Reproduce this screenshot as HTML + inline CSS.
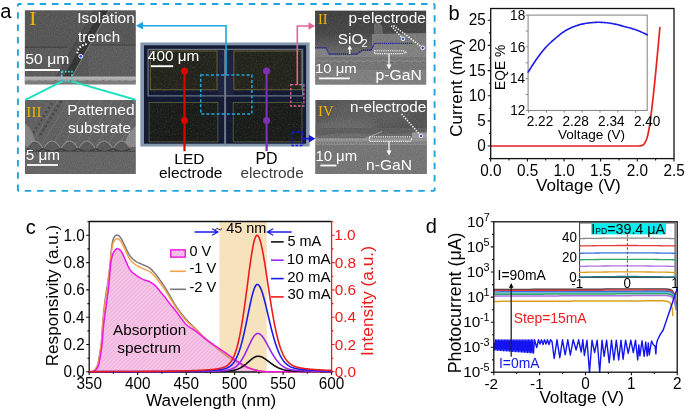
<!DOCTYPE html>
<html><head><meta charset="utf-8"><style>
html,body{margin:0;padding:0;background:#fff;overflow:hidden;}
svg{display:block;font-family:"Liberation Sans", sans-serif;will-change:transform;}
</style></head><body>
<svg width="685" height="411" viewBox="0 0 685 411">
<defs>
<pattern id="hatch" width="2.9" height="2.9" patternUnits="userSpaceOnUse" patternTransform="rotate(45)"><path d="M0,0 L0,2.9" stroke="#dc9cc8" stroke-width="0.9"/></pattern>
<filter id="grain" x="0" y="0" width="1" height="1" filterUnits="objectBoundingBox" color-interpolation-filters="sRGB"><feTurbulence type="fractalNoise" baseFrequency="0.85" numOctaves="2" seed="5" result="t"/><feColorMatrix in="t" type="matrix" values="0.33 0.33 0.33 0 0  0.33 0.33 0.33 0 0  0.33 0.33 0.33 0 0  0 0 0 0 1" result="g"/><feComposite in="SourceGraphic" in2="g" operator="arithmetic" k1="0" k2="1" k3="0.22" k4="-0.11"/></filter>
<filter id="speck" x="0" y="0" width="1" height="1" filterUnits="objectBoundingBox" color-interpolation-filters="sRGB"><feTurbulence type="fractalNoise" baseFrequency="1.3" numOctaves="1" seed="11" result="t"/><feColorMatrix in="t" type="matrix" values="0 0 0 0 0.72  0 0 0 0 0.68  0 0 0 0 0.4  0 0 0 12 -7.6"/></filter>
<linearGradient id="g2" x1="0" y1="0" x2="0" y2="1"><stop offset="0" stop-color="#434343"/><stop offset="0.3" stop-color="#484848"/><stop offset="0.45" stop-color="#5a5a5a"/><stop offset="0.55" stop-color="#686868"/><stop offset="1" stop-color="#6c6c6c"/></linearGradient>
<linearGradient id="g3" x1="0" y1="0" x2="0" y2="1"><stop offset="0" stop-color="#707070"/><stop offset="1" stop-color="#7c7c7c"/></linearGradient>
<linearGradient id="g4" x1="0" y1="0" x2="0" y2="1"><stop offset="0" stop-color="#5a5a5a"/><stop offset="0.35" stop-color="#606060"/><stop offset="0.45" stop-color="#6a6a6a"/><stop offset="0.52" stop-color="#8a8a8a"/><stop offset="0.56" stop-color="#9a9a9a"/><stop offset="0.6" stop-color="#7e7e7e"/><stop offset="1" stop-color="#7a7a7a"/></linearGradient>
<filter id="blur3" x="-50%" y="-50%" width="200%" height="200%"><feGaussianBlur stdDeviation="3"/></filter>
<clipPath id="c1"><rect x="24.7" y="10.2" width="111.1" height="74.3"/></clipPath>
<clipPath id="c2"><rect x="315.1" y="10.4" width="111.2" height="74.3"/></clipPath>
<clipPath id="c3"><rect x="25" y="99.9" width="110.8" height="74.1"/></clipPath>
<clipPath id="c4"><rect x="315.3" y="99.9" width="111.6" height="74"/></clipPath>
<clipPath id="cm"><rect x="140.2" y="42.3" width="169.6" height="104.4"/></clipPath>
</defs>
<text x="0.20" y="17.50" font-size="20.00" fill="#000" >a</text>
<g clip-path="url(#c1)"><g filter="url(#grain)">
<rect x="24.7" y="10.2" width="111.1" height="74.3" fill="#585858"/>
<rect x="24.7" y="47.2" width="44" height="30" fill="#5c5c5c"/>
<rect x="88" y="45" width="48" height="32" fill="#5e5e5e"/>
<path d="M24.7,47.2 L67,47.2" stroke="#3e3e3e" stroke-width="1"/>
<path d="M84,45 L136,45" stroke="#404040" stroke-width="1"/>
<path d="M56.5,77 L63.4,77 L100.7,10.2 L93.8,10.2 Z" fill="#4e4e4e"/>
<path d="M63.4,77 L71.6,77 L108.9,10.2 L100.7,10.2 Z" fill="#363636"/>
<path d="M71.8,77 L109.1,10.2" stroke="#767676" stroke-width="1.2"/>
<path d="M56.5,77 L93.8,10.2" stroke="#444" stroke-width="0.8"/>
<rect x="24.7" y="76.6" width="111.1" height="8" fill="#7c7c7c"/>
<rect x="24.7" y="76.6" width="111.1" height="3.2" fill="#b4b4b4"/>
<path d="M24.7,80.5 L136,80.5" stroke="#a0a0a0" stroke-width="0.8" stroke-dasharray="4 2 7 3"/>
</g></g>
<g clip-path="url(#c3)"><g filter="url(#grain)">
<rect x="25" y="99.9" width="110.8" height="74.1" fill="#626262"/>
<path d="M58,99.9 L30,146 M69,99.9 L41,146 M80,99.9 L52,146 M91,99.9 L63,146 M102,99.9 L74,146 M113,99.9 L85,146 M124,99.9 L96,146 M135,99.9 L107,146 M146,99.9 L118,146 M157,99.9 L129,146 M168,99.9 L140,146" stroke="#7a7a7a" stroke-width="0.7"/>
<g fill="#4a4a4a"><circle cx="60.7" cy="102.0" r="1.5"/><circle cx="58.2" cy="106.0" r="1.5"/><circle cx="55.7" cy="110.0" r="1.5"/><circle cx="53.2" cy="114.0" r="1.5"/><circle cx="50.7" cy="118.0" r="1.5"/><circle cx="48.1" cy="122.0" r="1.5"/><circle cx="45.6" cy="126.0" r="1.5"/><circle cx="43.1" cy="130.0" r="1.5"/><circle cx="40.6" cy="134.0" r="1.5"/><circle cx="51.5" cy="104.0" r="1.2"/><circle cx="49.0" cy="108.0" r="1.2"/><circle cx="46.4" cy="112.0" r="1.2"/><circle cx="43.9" cy="116.0" r="1.2"/><circle cx="41.4" cy="120.0" r="1.2"/><circle cx="38.9" cy="124.0" r="1.2"/><circle cx="36.4" cy="128.0" r="1.2"/><circle cx="33.8" cy="132.0" r="1.2"/></g>
<path d="M25,124 Q33,128 36,146 L25,146 Z" fill="#858585"/>
<path d="M136,126 Q127,131 124,147 L136,147 Z" fill="#8a8a8a"/>
<path d="M26,149 Q34.7,133 43.4,149 Q52.1,133 60.8,149 Q69.5,133 78.2,149 Q86.9,133 95.6,149 Q104.3,133 113.0,149 Q121.7,133 130.4,149 L136,152 L25,152 Z" fill="#5b5b5b"/>
<path d="M26,149 Q34.7,133 43.4,149 Q52.1,133 60.8,149 Q69.5,133 78.2,149 Q86.9,133 95.6,149 Q104.3,133 113.0,149 Q121.7,133 130.4,149" fill="none" stroke="#8e8e8e" stroke-width="1.1"/>
<path d="M26,148.5 Q34.7,155 43.4,148.5 Q52.1,155 60.8,148.5 Q69.5,155 78.2,148.5 Q86.9,155 95.6,148.5 Q104.3,155 113.0,148.5 Q121.7,155 130.4,148.5" fill="none" stroke="#3a3a3a" stroke-width="1.5"/>
<rect x="25" y="151.5" width="110.8" height="22.5" fill="#666666"/>
<path d="M25,151.5 L136,151.5" stroke="#4c4c4c" stroke-width="1.2"/>
</g></g>
<g clip-path="url(#cm)">
<rect x="140.2" y="42.3" width="169.6" height="104.4" fill="#8398ae"/>
<rect x="144.0" y="45.3" width="162.1" height="98.4" fill="#131a33"/>
<rect x="218" y="49" width="15" height="47" fill="#1d2340"/>
<g filter="url(#grain)"><rect x="149.4" y="50.3" width="68.2" height="40" fill="#25271f"/></g>
<g filter="url(#grain)"><rect x="233.2" y="50.3" width="68.8" height="40" fill="#25271f"/></g>
<g fill="none" stroke="#8a7e46" stroke-width="0.8" opacity="0.85">
<rect x="150.2" y="51" width="66.8" height="38.8"/>
<rect x="233.9" y="51" width="67.4" height="38.8"/>
</g>
<g filter="url(#grain)"><rect x="149.1" y="102.4" width="68.8" height="39.5" fill="#1b1f1b"/></g>
<g filter="url(#grain)"><rect x="233.2" y="102.4" width="68.8" height="39.5" fill="#1b1f1b"/></g>
<rect x="149.1" y="102.4" width="68.8" height="39.5" fill="none" stroke="#626440" stroke-width="0.8"/>
<rect x="233.2" y="102.4" width="68.8" height="39.5" fill="none" stroke="#626440" stroke-width="0.8"/>
<rect x="149" y="50" width="154" height="92" filter="url(#speck)" opacity="0.1"/>
<path d="M148.1,95.8 L148.1,49.4 L302.6,49.4 L302.6,95.8 Z" fill="none" stroke="#687484" stroke-width="1.3"/>
<path d="M225.1,49.4 L225.1,144.3" stroke="#6c7888" stroke-width="2.0"/>
</g>
<g clip-path="url(#c2)"><g filter="url(#grain)">
<rect x="315.1" y="10.4" width="111.2" height="74.3" fill="url(#g2)"/>
<path d="M374,24 Q378,20 382,26 L384,40 L374,40 Z" fill="#6a6a6a"/>
<path d="M372,34 L426.3,33 L426.3,46 L372,46 Z" fill="#7c7c7c"/>
<path d="M315.1,48.5 L326,48.5 L329.5,55 L357,55 L362.5,51 L371,51 L374.5,44.5 L426.3,44.5 L426.3,57 L315.1,57 Z" fill="#828282"/>
<rect x="315.1" y="57" width="111.2" height="28" fill="#767676"/>
<path d="M315.1,62 q4,-3 8,0 q4,-3 8,0 q4,-3 8,0 q4,-3 8,0 q4,-3 8,0 q4,-3 8,0 q4,-3 8,0 q4,-3 8,0 q4,-3 8,0 q4,-3 8,0 q4,-3 8,0 q4,-3 8,0 q4,-3 8,0 q4,-3 8,0" fill="none" stroke="#8c8c8c" stroke-width="1.2"/>
<rect x="315.1" y="70" width="111.2" height="15" fill="#808080"/>
</g></g>
<g clip-path="url(#c4)"><g filter="url(#grain)">
<rect x="315.3" y="99.9" width="111.6" height="74" fill="#565656"/>
<ellipse cx="372" cy="112" rx="40" ry="14" fill="#5e5e5e" filter="url(#blur3)"/>
<ellipse cx="345" cy="127" rx="32" ry="8" fill="#6a6a6a" filter="url(#blur3)"/>
<rect x="315.3" y="128" width="111.6" height="10" fill="#606060"/>
<path d="M315.3,136 Q345,131 372,134 L427,133 L427,138 L315.3,138 Z" fill="#6c6c6c"/>
<rect x="412" y="132.5" width="15" height="7" fill="#9a9a9a"/>
<rect x="315.3" y="138" width="111.6" height="7" fill="#8a8a8a"/>
<path d="M315.3,139.8 L427,139.8" stroke="#a4a4a4" stroke-width="1.5" stroke-dasharray="1.4 1.4"/>
<path d="M364,139 L382,131.5" stroke="#9a9a9a" stroke-width="1.1"/>
<path d="M315.3,142.8 L427,142.8" stroke="#6e6e6e" stroke-width="1.2" stroke-dasharray="1.4 1.4"/>
<rect x="315.3" y="145" width="111.6" height="29" fill="#767676"/>
</g></g>
<path d="M17.9,3.95 L434.6,3.95" fill="none" stroke="#1ea5e0" stroke-width="1.9" stroke-dasharray="6.5 5.8" stroke-dashoffset="2.8"/>
<path d="M434.6,3.95 L434.6,190.9" fill="none" stroke="#1ea5e0" stroke-width="1.9" stroke-dasharray="6.5 5.8" stroke-dashoffset="1.05"/>
<path d="M17.9,190.9 L434.6,190.9" fill="none" stroke="#1ea5e0" stroke-width="1.9" stroke-dasharray="6.5 5.8" stroke-dashoffset="5.5"/>
<path d="M17.9,3.95 L17.9,190.9" fill="none" stroke="#1ea5e0" stroke-width="1.9" stroke-dasharray="6.5 5.8" stroke-dashoffset="3.95"/>
<path d="M62,81.4 L25.3,99.8 M71.7,81.4 L135.6,99.8" stroke="#1fe0c0" stroke-width="2" fill="none"/>
<rect x="61.7" y="71.6" width="10.2" height="9.8" fill="none" stroke="#34dce8" stroke-width="1.7" stroke-dasharray="1.6 1.6"/>
<path d="M77.3,53.4 Q77.8,45.6 88.1,43.7" fill="none" stroke="#fff" stroke-width="2" stroke-dasharray="1.6 1.6"/>
<circle cx="80.7" cy="56.3" r="1.9" fill="#3050e0" stroke="#fff" stroke-width="1"/>
<text transform="translate(77.17,23.30) scale(1,0.92)" font-size="15.48" fill="#ffffff" >Isolation</text>
<text transform="translate(78.07,41.80) scale(1,0.92)" font-size="15.13" fill="#ffffff" >trench</text>
<text transform="translate(25.37,63.70) scale(1,0.92)" font-size="15.73" fill="#ffffff" >50 μm</text>
<path d="M24.7,70 L60,70" stroke="#fff" stroke-width="1.8"/>
<text x="29.0" y="25.1" font-size="18.2" fill="#f0b400" font-family='"Liberation Serif", serif' textLength="7.6" lengthAdjust="spacingAndGlyphs">I</text>
<text transform="translate(67.22,114.90) scale(1,0.92)" font-size="15.56" fill="#ffffff" >Patterned</text>
<text transform="translate(67.88,133.30) scale(1,0.92)" font-size="15.36" fill="#ffffff" >substrate</text>
<text transform="translate(25.69,159.50) scale(1,0.92)" font-size="15.35" fill="#ffffff" >5 μm</text>
<path d="M27.1,165 L58,165" stroke="#fff" stroke-width="1.8"/>
<text x="26.37" y="116.80" font-size="15.20" fill="#f0b400" font-family='"Liberation Serif", serif' >III</text>
<text x="147.86" y="60.90" font-size="15.33" fill="#ffffff" >400 μm</text>
<path d="M150.9,66.2 L173.2,66.2" stroke="#fff" stroke-width="1.9"/>
<path d="M315.1,47.7 L325.8,47.7 L329.2,54 L356.6,54 L362.5,50.2 L371,50.2 L374.5,43.4 L412,43.4" fill="none" stroke="#1c1cb0" stroke-width="1.4" stroke-dasharray="1.2 0.9"/>
<path d="M374.5,50.8 L403,50.8 L406,52.2 L403,53.6 L374.5,53.6 Z" fill="none" stroke="#fff" stroke-width="1.1" stroke-dasharray="1.2 1"/>
<path d="M389,54 L389,66" stroke="#fff" stroke-width="1.2"/><path d="M389,69.5 L386.5,64.5 L391.5,64.5 Z" fill="#fff"/>
<path d="M349.7,54 L349.7,48.5" stroke="#fff" stroke-width="1.2"/><path d="M349.7,45.2 L347.4,49.6 L352,49.6 Z" fill="#fff"/>
<path d="M391.2,25.8 L403,38.8 M393.5,25.5 L422.7,47.8" stroke="#fff" stroke-width="1.6" stroke-dasharray="1.3 1.4"/>
<circle cx="403" cy="38.8" r="1.8" fill="#3050e0" stroke="#fff" stroke-width="1"/><circle cx="422.7" cy="47.8" r="1.8" fill="#3050e0" stroke="#fff" stroke-width="1"/>
<text transform="translate(348.60,22.60) scale(1,0.92)" font-size="15.44" fill="#ffffff" >p-electrode</text>
<text x="337.81" y="44.30" font-size="15.40" fill="#ffffff" >SiO</text>
<text x="361.6" y="47.3" font-size="11" fill="#fff">2</text>
<text transform="translate(314.98,72.50) scale(1,0.92)" font-size="14.89" fill="#ffffff" >10 μm</text>
<path d="M319,78.4 L349.7,78.4" stroke="#fff" stroke-width="1.8"/>
<text transform="translate(375.48,80.10) scale(1,0.92)" font-size="15.76" fill="#ffffff" >p-GaN</text>
<text x="318.00" y="23.60" font-size="14.29" fill="#f0b400" font-family='"Liberation Serif", serif' >II</text>
<path d="M369.5,136.9 L410,136.9 L412.3,139.1 L410,141.4 L369.5,141.4 Z" fill="none" stroke="#fff" stroke-width="1.1" stroke-dasharray="1.2 1"/>
<path d="M389,141.4 L389,152" stroke="#fff" stroke-width="1.2"/><path d="M389,155.4 L386.5,150.4 L391.5,150.4 Z" fill="#fff"/>
<path d="M401.6,114.1 L421,135.9" stroke="#fff" stroke-width="1.6" stroke-dasharray="1.3 1.4"/>
<circle cx="421" cy="135.9" r="1.8" fill="#3050e0" stroke="#fff" stroke-width="1"/>
<text transform="translate(349.97,112.20) scale(1,0.92)" font-size="15.23" fill="#ffffff" >n-electrode</text>
<text transform="translate(315.38,161.20) scale(1,0.92)" font-size="14.92" fill="#ffffff" >10 μm</text>
<path d="M320.4,165.5 L336.4,165.5" stroke="#fff" stroke-width="1.8"/>
<text transform="translate(366.05,170.00) scale(1,0.92)" font-size="15.60" fill="#ffffff" >n-GaN</text>
<text x="317.98" y="115.50" font-size="14.79" fill="#f0b400" font-family='"Liberation Serif", serif' >IV</text>
<path d="M184.5,71 L184.5,151.1" stroke="#e00000" stroke-width="2.2"/>
<circle cx="184.5" cy="71" r="3.5" fill="#e00000"/><circle cx="184.5" cy="120.6" r="3.5" fill="#e00000"/>
<path d="M266.6,71 L266.6,151.1" stroke="#7a30b0" stroke-width="2.2"/>
<circle cx="266.6" cy="71" r="3.5" fill="#7a30b0"/><circle cx="266.6" cy="120.6" r="3.5" fill="#7a30b0"/>
<text x="174.32" y="163.90" font-size="15.48" fill="#000" >LED</text>
<text x="158.94" y="177.80" font-size="15.44" fill="#000" >electrode</text>
<text x="255.48" y="163.90" font-size="15.95" fill="#000" >PD</text>
<text x="240.45" y="177.80" font-size="15.39" fill="#3c3c3c" >electrode</text>
<rect x="200.7" y="75" width="51.2" height="38.9" fill="none" stroke="#1ea5e0" stroke-width="1.5" stroke-dasharray="3.0 2.1"/>
<path d="M226,75 L226,25.7 L141.5,25.7" stroke="#1ea5e0" stroke-width="1.6" fill="none"/>
<path d="M135.9,25.7 L143,21.8 L143,29.6 Z" fill="#1ea5e0"/>
<rect x="290.8" y="84.7" width="13.1" height="21.3" fill="none" stroke="#e8609a" stroke-width="1.3" stroke-dasharray="2.6 1.6"/>
<path d="M297.3,84.7 L297.3,26 L309.5,26" stroke="#e8609a" stroke-width="1.6" fill="none"/>
<path d="M315.1,26 L308.5,22.2 L308.5,29.8 Z" fill="#e8609a"/>
<rect x="292" y="132" width="11" height="13.5" fill="none" stroke="#1010e0" stroke-width="1.3" stroke-dasharray="2.6 1.6"/>
<path d="M303,138.7 L309.5,138.7" stroke="#1010e0" stroke-width="1.6"/>
<path d="M315.3,138.7 L308.8,134.8 L308.8,142.6 Z" fill="#1010e0"/>
<text x="448.50" y="19.90" font-size="20.00" fill="#000" >b</text>
<path d="M490.70,146.00 L636.00,146.00 L636.40,145.99 L636.80,145.99 L637.20,145.99 L637.60,145.99 L638.00,146.00 L638.40,146.00 L638.80,145.99 L639.20,145.97 L639.60,145.94 L640.00,145.89 L640.40,145.82 L640.80,145.74 L641.20,145.66 L641.60,145.58 L642.00,145.47 L642.40,145.32 L642.80,145.12 L643.20,144.86 L643.60,144.50 L644.00,144.08 L644.40,143.57 L644.80,142.98 L645.20,142.29 L645.60,141.50 L646.00,140.61 L646.40,139.62 L646.80,138.50 L647.20,137.21 L647.60,135.74 L648.00,134.12 L648.40,132.30 L648.80,130.24 L649.20,127.90 L649.60,125.34 L650.00,122.61 L650.40,119.72 L650.80,116.70 L651.20,113.59 L651.60,110.39 L652.00,107.08 L652.40,103.67 L652.80,100.16 L653.20,96.56 L653.60,92.89 L654.00,89.14 L654.40,85.33 L654.80,81.42 L655.20,77.42 L655.60,73.35 L656.00,69.23 L656.40,65.07 L656.80,60.90 L657.20,56.69 L657.60,52.43 L658.00,48.12 L658.40,43.79 L658.80,39.44 L659.20,35.08 L659.60,30.74 L659.90,27.50" stroke="#e82020" stroke-width="1.7" fill="none" stroke-linejoin="round" stroke-linecap="round" />
<rect x="490.7" y="8.5" width="183.3" height="150.1" fill="none" stroke="#111" stroke-width="1.3"/>
<path d="M490.7,158.6 L490.7,161.6 M509.0,158.6 L509.0,160.4 M527.4,158.6 L527.4,161.6 M545.7,158.6 L545.7,160.4 M564.0,158.6 L564.0,161.6 M582.3,158.6 L582.3,160.4 M600.6,158.6 L600.6,161.6 M619.0,158.6 L619.0,160.4 M637.3,158.6 L637.3,161.6 M655.6,158.6 L655.6,160.4 M674.0,158.6 L674.0,161.6 M490.7,146.0 L487.7,146.0 M490.7,133.4 L488.9,133.4 M490.7,120.9 L487.7,120.9 M490.7,108.3 L488.9,108.3 M490.7,95.7 L487.7,95.7 M490.7,83.2 L488.9,83.2 M490.7,70.6 L487.7,70.6 M490.7,58.0 L488.9,58.0 M490.7,45.4 L487.7,45.4 M490.7,32.9 L488.9,32.9 M490.7,20.3 L487.7,20.3 M490.7,158.6 L488.9,158.6" stroke="#111" stroke-width="1.1"/>
<text transform="translate(480.35,175.60) scale(1,1.06)" font-size="15.30" fill="#000" >0.0</text>
<text transform="translate(517.02,175.60) scale(1,1.06)" font-size="15.30" fill="#000" >0.5</text>
<text transform="translate(553.38,175.60) scale(1,1.06)" font-size="15.30" fill="#000" >1.0</text>
<text transform="translate(590.05,175.60) scale(1,1.06)" font-size="15.30" fill="#000" >1.5</text>
<text transform="translate(626.87,175.60) scale(1,1.06)" font-size="15.30" fill="#000" >2.0</text>
<text transform="translate(663.54,175.60) scale(1,1.06)" font-size="15.30" fill="#000" >2.5</text>
<text transform="translate(477.28,151.06) scale(1,1.06)" font-size="15.30" fill="#000">0</text>
<text transform="translate(477.32,125.92) scale(1,1.06)" font-size="15.30" fill="#000">5</text>
<text transform="translate(468.79,100.78) scale(1,1.06)" font-size="15.30" fill="#000">10</text>
<text transform="translate(468.83,75.64) scale(1,1.06)" font-size="15.30" fill="#000">15</text>
<text transform="translate(468.79,50.50) scale(1,1.06)" font-size="15.30" fill="#000">20</text>
<text transform="translate(468.83,25.36) scale(1,1.06)" font-size="15.30" fill="#000">25</text>
<text x="536.01" y="191.40" font-size="17.15" fill="#000" >Voltage (V)</text>
<text transform="translate(462.39,136.65) rotate(-90)" font-size="16.95" fill="#000">Current (mA)</text>
<rect x="528.1" y="15.1" width="119.10000000000002" height="95.4" fill="#fff" stroke="#8a8a8a" stroke-width="1.1"/>
<path d="M528.10,72.10 L529.10,70.54 L530.10,68.95 L531.10,67.36 L532.10,65.78 L533.10,64.23 L534.10,62.71 L535.10,61.24 L536.10,59.82 L537.10,58.42 L538.10,57.03 L539.10,55.67 L540.10,54.33 L541.10,53.02 L542.10,51.74 L543.10,50.50 L544.10,49.30 L545.10,48.14 L546.10,47.03 L547.10,45.96 L548.10,44.94 L549.10,43.96 L550.10,43.01 L551.10,42.09 L552.10,41.20 L553.10,40.32 L554.10,39.46 L555.10,38.61 L556.10,37.76 L557.10,36.92 L558.10,36.09 L559.10,35.28 L560.10,34.48 L561.10,33.71 L562.10,32.96 L563.10,32.24 L564.10,31.55 L565.10,30.90 L566.10,30.28 L567.10,29.70 L568.10,29.16 L569.10,28.66 L570.10,28.18 L571.10,27.73 L572.10,27.31 L573.10,26.90 L574.10,26.52 L575.10,26.15 L576.10,25.80 L577.10,25.46 L578.10,25.15 L579.10,24.86 L580.10,24.59 L581.10,24.34 L582.10,24.10 L583.10,23.89 L584.10,23.69 L585.10,23.50 L586.10,23.33 L587.10,23.18 L588.10,23.03 L589.10,22.90 L590.10,22.78 L591.10,22.68 L592.10,22.59 L593.10,22.51 L594.10,22.45 L595.10,22.39 L596.10,22.35 L597.10,22.32 L598.10,22.31 L599.10,22.30 L600.10,22.31 L601.10,22.33 L602.10,22.38 L603.10,22.43 L604.10,22.51 L605.10,22.59 L606.10,22.69 L607.10,22.81 L608.10,22.93 L609.10,23.07 L610.10,23.21 L611.10,23.37 L612.10,23.53 L613.10,23.71 L614.10,23.91 L615.10,24.13 L616.10,24.35 L617.10,24.59 L618.10,24.84 L619.10,25.09 L620.10,25.36 L621.10,25.62 L622.10,25.89 L623.10,26.17 L624.10,26.44 L625.10,26.71 L626.10,26.97 L627.10,27.24 L628.10,27.51 L629.10,27.78 L630.10,28.05 L631.10,28.33 L632.10,28.62 L633.10,28.92 L634.10,29.23 L635.10,29.55 L636.10,29.89 L637.10,30.25 L638.10,30.63 L639.10,31.04 L640.10,31.47 L641.10,31.92 L642.10,32.39 L643.10,32.86 L644.10,33.34 L645.10,33.82 L646.10,34.29 L647.10,34.75 L647.20,34.80" stroke="#1c1ce8" stroke-width="1.6" fill="none" stroke-linejoin="round" stroke-linecap="round" />
<path d="M528.1,110.5 L525.7,110.5 M528.1,94.6 L525.7,94.6 M528.1,78.7 L525.7,78.7 M528.1,62.8 L525.7,62.8 M528.1,46.9 L525.7,46.9 M528.1,31.0 L525.7,31.0 M528.1,15.1 L525.7,15.1 M528.5,110.5 L528.5,112.7 M546.4,110.5 L546.4,112.7 M564.2,110.5 L564.2,112.7 M582.1,110.5 L582.1,112.7 M600.0,110.5 L600.0,112.7 M617.8,110.5 L617.8,112.7 M635.7,110.5 L635.7,112.7" stroke="#8a8a8a" stroke-width="1"/>
<text transform="translate(510.18,115.23) scale(1,1.06)" font-size="13.60" fill="#000">12</text>
<text transform="translate(509.88,83.43) scale(1,1.06)" font-size="13.60" fill="#000">14</text>
<text transform="translate(510.08,51.63) scale(1,1.06)" font-size="13.60" fill="#000">16</text>
<text transform="translate(510.08,19.83) scale(1,1.06)" font-size="13.60" fill="#000">18</text>
<text transform="translate(526.78,125.50) scale(1,1.06)" font-size="13.60" fill="#000" >2.22</text>
<text transform="translate(562.46,125.50) scale(1,1.06)" font-size="13.60" fill="#000" >2.28</text>
<text transform="translate(598.09,125.50) scale(1,1.06)" font-size="13.60" fill="#000" >2.34</text>
<text transform="translate(633.89,125.50) scale(1,1.06)" font-size="13.60" fill="#000" >2.40</text>
<text x="558.03" y="138.80" font-size="13.57" fill="#000" >Voltage (V)</text>
<text transform="translate(504.53,90.04) rotate(-90)" font-size="13.80" fill="#000">EQE %</text>
<text x="25.85" y="233.60" font-size="20.00" fill="#000" >c</text>
<rect x="219.4" y="221.5" width="47.4" height="150.5" fill="#f7e2be"/>
<path d="M89.20,371.80 L89.68,371.80 L90.17,371.80 L90.65,371.80 L91.14,371.80 L91.62,371.80 L92.11,371.80 L92.59,371.74 L93.08,371.59 L93.56,371.36 L94.05,371.08 L94.53,370.77 L95.02,370.45 L95.50,370.10 L95.99,369.69 L96.47,369.17 L96.96,368.52 L97.44,367.76 L97.93,366.79 L98.41,365.52 L98.90,363.90 L99.38,361.74 L99.87,358.73 L100.35,356.05 L100.84,353.37 L101.32,350.23 L101.80,346.75 L102.29,341.42 L102.77,335.00 L103.26,328.85 L103.74,323.97 L104.23,319.78 L104.71,316.03 L105.20,312.56 L105.68,309.22 L106.17,305.86 L106.65,302.32 L107.14,298.57 L107.62,294.90 L108.11,291.17 L108.59,287.16 L109.08,282.67 L109.56,277.06 L110.05,270.83 L110.53,265.38 L111.02,261.61 L111.50,258.88 L111.99,256.80 L112.47,255.02 L112.96,253.61 L113.44,252.58 L113.92,251.80 L114.41,251.13 L114.89,250.46 L115.38,249.87 L115.86,249.37 L116.35,249.00 L116.83,248.76 L117.32,248.68 L117.80,248.72 L118.29,248.86 L118.77,249.09 L119.26,249.40 L119.74,249.79 L120.23,250.26 L120.71,250.80 L121.20,251.41 L121.68,252.11 L122.17,252.95 L122.65,253.90 L123.14,254.94 L123.62,256.02 L124.11,257.12 L124.59,258.21 L125.08,259.26 L125.56,260.33 L126.04,261.44 L126.53,262.58 L127.01,263.73 L127.50,264.86 L127.98,265.96 L128.47,267.00 L128.95,267.97 L129.44,268.84 L129.92,269.59 L130.41,270.27 L130.89,270.87 L131.38,271.41 L131.86,271.89 L132.35,272.34 L132.83,272.75 L133.32,273.13 L133.80,273.50 L134.29,273.87 L134.77,274.24 L135.26,274.63 L135.74,275.01 L136.23,275.37 L136.71,275.72 L137.20,276.06 L137.68,276.39 L138.16,276.71 L138.65,277.01 L139.13,277.31 L139.62,277.60 L140.10,277.88 L140.59,278.15 L141.07,278.41 L141.56,278.67 L142.04,278.92 L142.53,279.16 L143.01,279.39 L143.50,279.60 L143.98,279.78 L144.47,279.95 L144.95,280.11 L145.44,280.27 L145.92,280.41 L146.41,280.56 L146.89,280.72 L147.38,280.87 L147.86,281.04 L148.35,281.23 L148.83,281.43 L149.32,281.65 L149.80,281.90 L150.28,282.16 L150.77,282.42 L151.25,282.70 L151.74,282.99 L152.22,283.29 L152.71,283.61 L153.19,283.95 L153.68,284.31 L154.16,284.69 L154.65,285.10 L155.13,285.53 L155.62,286.00 L156.10,286.51 L156.59,287.05 L157.07,287.62 L157.56,288.21 L158.04,288.81 L158.53,289.42 L159.01,290.03 L159.50,290.64 L159.98,291.24 L160.47,291.83 L160.95,292.41 L161.44,292.97 L161.92,293.54 L162.40,294.11 L162.89,294.68 L163.37,295.26 L163.86,295.85 L164.34,296.45 L164.83,297.07 L165.31,297.71 L165.80,298.35 L166.28,299.00 L166.77,299.66 L167.25,300.32 L167.74,300.98 L168.22,301.64 L168.71,302.29 L169.19,302.92 L169.68,303.55 L170.16,304.16 L170.65,304.76 L171.13,305.36 L171.62,305.95 L172.10,306.53 L172.59,307.11 L173.07,307.69 L173.56,308.27 L174.04,308.85 L174.52,309.44 L175.01,310.04 L175.49,310.65 L175.98,311.27 L176.46,311.90 L176.95,312.55 L177.43,313.21 L177.92,313.88 L178.40,314.55 L178.89,315.23 L179.37,315.91 L179.86,316.59 L180.34,317.27 L180.83,317.94 L181.31,318.61 L181.80,319.27 L182.28,319.91 L182.77,320.55 L183.25,321.17 L183.74,321.77 L184.22,322.35 L184.71,322.92 L185.19,323.45 L185.68,323.96 L186.16,324.45 L186.64,324.90 L187.13,325.33 L187.61,325.74 L188.10,326.12 L188.58,326.49 L189.07,326.83 L189.55,327.17 L190.04,327.49 L190.52,327.80 L191.01,328.10 L191.49,328.40 L191.98,328.69 L192.46,328.98 L192.95,329.27 L193.43,329.57 L193.92,329.87 L194.40,330.18 L194.89,330.50 L195.37,330.83 L195.86,331.18 L196.34,331.54 L196.83,331.91 L197.31,332.29 L197.80,332.67 L198.28,333.06 L198.76,333.45 L199.25,333.84 L199.73,334.24 L200.22,334.64 L200.70,335.04 L201.19,335.44 L201.67,335.84 L202.16,336.24 L202.64,336.64 L203.13,337.04 L203.61,337.43 L204.10,337.83 L204.58,338.21 L205.07,338.60 L205.55,338.98 L206.04,339.35 L206.52,339.72 L207.01,340.09 L207.49,340.45 L207.98,340.80 L208.46,341.15 L208.95,341.50 L209.43,341.85 L209.92,342.20 L210.40,342.54 L210.88,342.88 L211.37,343.22 L211.85,343.55 L212.34,343.89 L212.82,344.22 L213.31,344.56 L213.79,344.89 L214.28,345.22 L214.76,345.56 L215.25,345.89 L215.73,346.22 L216.22,346.56 L216.70,346.89 L217.19,347.22 L217.67,347.56 L218.16,347.89 L218.64,348.22 L219.13,348.54 L219.61,348.87 L220.10,349.20 L220.58,349.52 L221.07,349.85 L221.55,350.17 L222.04,350.50 L222.52,350.82 L223.00,351.15 L223.49,351.47 L223.97,351.80 L224.46,352.13 L224.94,352.46 L225.43,352.79 L225.91,353.12 L226.40,353.45 L226.88,353.79 L227.37,354.12 L227.85,354.46 L228.34,354.81 L228.82,355.16 L229.31,355.51 L229.79,355.86 L230.28,356.22 L230.76,356.58 L231.25,356.94 L231.73,357.29 L232.22,357.65 L232.70,358.01 L233.19,358.37 L233.67,358.72 L234.16,359.07 L234.64,359.42 L235.12,359.77 L235.61,360.11 L236.09,360.45 L236.58,360.78 L237.06,361.11 L237.55,361.43 L238.03,361.74 L238.52,362.06 L239.00,362.38 L239.49,362.70 L239.97,363.01 L240.46,363.33 L240.94,363.64 L241.43,363.95 L241.91,364.25 L242.40,364.56 L242.88,364.85 L243.37,365.15 L243.85,365.43 L244.34,365.72 L244.82,365.99 L245.31,366.26 L245.79,366.52 L246.28,366.77 L246.76,367.02 L247.24,367.25 L247.73,367.48 L248.21,367.70 L248.70,367.91 L249.18,368.11 L249.67,368.30 L250.15,368.48 L250.64,368.66 L251.12,368.83 L251.61,369.00 L252.09,369.15 L252.58,369.31 L253.06,369.45 L253.55,369.59 L254.03,369.73 L254.52,369.86 L255.00,369.98 L255.49,370.10 L255.97,370.22 L256.46,370.33 L256.94,370.44 L257.43,370.55 L257.91,370.65 L258.40,370.75 L258.88,370.84 L259.36,370.93 L259.85,371.02 L260.33,371.10 L260.82,371.18 L261.30,371.26 L261.79,371.32 L262.27,371.39 L262.76,371.45 L263.24,371.50 L263.73,371.56 L264.21,371.60 L264.70,371.64 L265.18,371.68 L265.67,371.71 L266.15,371.74 L266.64,371.76 L267.12,371.78 L267.61,371.79 L268.09,371.80 L268.58,371.80 L269.06,371.80 L269.55,371.80 L270.03,371.80 L270.52,371.80 L271.00,371.80 L271.48,371.80 L271.97,371.80 L272.45,371.80 L272.94,371.80 L273.42,371.80 L273.91,371.80 L274.39,371.80 L274.88,371.80 L275.36,371.80 L275.85,371.80 L276.33,371.80 L276.82,371.80 L277.30,371.80 L277.79,371.80 L278.27,371.80 L278.76,371.80 L279.24,371.80 L279.73,371.80 L280.21,371.80 L280.70,371.80 L281.18,371.80 L281.67,371.80 L282.15,371.80 L282.64,371.80 L283.12,371.80 L283.60,371.80 L284.09,371.80 L284.57,371.80 L285.06,371.80 L285.54,371.80 L286.03,371.80 L286.51,371.80 L287.00,371.80 L287.48,371.80 L287.97,371.80 L288.45,371.80 L288.94,371.80 L289.42,371.80 L289.91,371.80 L290.39,371.80 L290.88,371.80 L291.36,371.80 L291.85,371.80 L292.33,371.80 L292.82,371.80 L293.30,371.80 L293.79,371.80 L294.27,371.80 L294.76,371.80 L295.24,371.80 L295.72,371.80 L296.21,371.80 L296.69,371.80 L297.18,371.80 L297.66,371.80 L298.15,371.80 L298.63,371.80 L299.12,371.80 L299.60,371.80 L300.09,371.80 L300.57,371.80 L301.06,371.80 L301.54,371.80 L302.03,371.80 L302.51,371.80 L303.00,371.80 L303.48,371.80 L303.97,371.80 L304.45,371.80 L304.94,371.80 L305.42,371.80 L305.91,371.80 L306.39,371.80 L306.88,371.80 L307.36,371.80 L307.84,371.80 L308.33,371.80 L308.81,371.80 L309.30,371.80 L309.78,371.80 L310.27,371.80 L310.75,371.80 L311.24,371.80 L311.72,371.80 L312.21,371.80 L312.69,371.80 L313.18,371.80 L313.66,371.80 L314.15,371.80 L314.63,371.80 L315.12,371.80 L315.60,371.80 L316.09,371.80 L316.57,371.80 L317.06,371.80 L317.54,371.80 L318.03,371.80 L318.51,371.80 L319.00,371.80 L319.48,371.80 L319.96,371.80 L320.45,371.80 L320.93,371.80 L321.42,371.80 L321.90,371.80 L322.39,371.80 L322.87,371.80 L323.36,371.80 L323.84,371.80 L324.33,371.80 L324.81,371.80 L325.30,371.80 L325.78,371.80 L326.27,371.80 L326.75,371.80 L327.24,371.80 L327.72,371.80 L328.21,371.80 L328.69,371.80 L329.18,371.80 L329.66,371.80 L330.15,371.80 L330.63,371.80 L331.12,371.80 L331.60,371.80 Z" fill="#f8c4e8"/>
<path d="M89.20,371.80 L89.68,371.80 L90.17,371.80 L90.65,371.80 L91.14,371.80 L91.62,371.80 L92.11,371.80 L92.59,371.74 L93.08,371.59 L93.56,371.36 L94.05,371.08 L94.53,370.77 L95.02,370.45 L95.50,370.10 L95.99,369.69 L96.47,369.17 L96.96,368.52 L97.44,367.76 L97.93,366.79 L98.41,365.52 L98.90,363.90 L99.38,361.74 L99.87,358.73 L100.35,356.05 L100.84,353.37 L101.32,350.23 L101.80,346.75 L102.29,341.42 L102.77,335.00 L103.26,328.85 L103.74,323.97 L104.23,319.78 L104.71,316.03 L105.20,312.56 L105.68,309.22 L106.17,305.86 L106.65,302.32 L107.14,298.57 L107.62,294.90 L108.11,291.17 L108.59,287.16 L109.08,282.67 L109.56,277.06 L110.05,270.83 L110.53,265.38 L111.02,261.61 L111.50,258.88 L111.99,256.80 L112.47,255.02 L112.96,253.61 L113.44,252.58 L113.92,251.80 L114.41,251.13 L114.89,250.46 L115.38,249.87 L115.86,249.37 L116.35,249.00 L116.83,248.76 L117.32,248.68 L117.80,248.72 L118.29,248.86 L118.77,249.09 L119.26,249.40 L119.74,249.79 L120.23,250.26 L120.71,250.80 L121.20,251.41 L121.68,252.11 L122.17,252.95 L122.65,253.90 L123.14,254.94 L123.62,256.02 L124.11,257.12 L124.59,258.21 L125.08,259.26 L125.56,260.33 L126.04,261.44 L126.53,262.58 L127.01,263.73 L127.50,264.86 L127.98,265.96 L128.47,267.00 L128.95,267.97 L129.44,268.84 L129.92,269.59 L130.41,270.27 L130.89,270.87 L131.38,271.41 L131.86,271.89 L132.35,272.34 L132.83,272.75 L133.32,273.13 L133.80,273.50 L134.29,273.87 L134.77,274.24 L135.26,274.63 L135.74,275.01 L136.23,275.37 L136.71,275.72 L137.20,276.06 L137.68,276.39 L138.16,276.71 L138.65,277.01 L139.13,277.31 L139.62,277.60 L140.10,277.88 L140.59,278.15 L141.07,278.41 L141.56,278.67 L142.04,278.92 L142.53,279.16 L143.01,279.39 L143.50,279.60 L143.98,279.78 L144.47,279.95 L144.95,280.11 L145.44,280.27 L145.92,280.41 L146.41,280.56 L146.89,280.72 L147.38,280.87 L147.86,281.04 L148.35,281.23 L148.83,281.43 L149.32,281.65 L149.80,281.90 L150.28,282.16 L150.77,282.42 L151.25,282.70 L151.74,282.99 L152.22,283.29 L152.71,283.61 L153.19,283.95 L153.68,284.31 L154.16,284.69 L154.65,285.10 L155.13,285.53 L155.62,286.00 L156.10,286.51 L156.59,287.05 L157.07,287.62 L157.56,288.21 L158.04,288.81 L158.53,289.42 L159.01,290.03 L159.50,290.64 L159.98,291.24 L160.47,291.83 L160.95,292.41 L161.44,292.97 L161.92,293.54 L162.40,294.11 L162.89,294.68 L163.37,295.26 L163.86,295.85 L164.34,296.45 L164.83,297.07 L165.31,297.71 L165.80,298.35 L166.28,299.00 L166.77,299.66 L167.25,300.32 L167.74,300.98 L168.22,301.64 L168.71,302.29 L169.19,302.92 L169.68,303.55 L170.16,304.16 L170.65,304.76 L171.13,305.36 L171.62,305.95 L172.10,306.53 L172.59,307.11 L173.07,307.69 L173.56,308.27 L174.04,308.85 L174.52,309.44 L175.01,310.04 L175.49,310.65 L175.98,311.27 L176.46,311.90 L176.95,312.55 L177.43,313.21 L177.92,313.88 L178.40,314.55 L178.89,315.23 L179.37,315.91 L179.86,316.59 L180.34,317.27 L180.83,317.94 L181.31,318.61 L181.80,319.27 L182.28,319.91 L182.77,320.55 L183.25,321.17 L183.74,321.77 L184.22,322.35 L184.71,322.92 L185.19,323.45 L185.68,323.96 L186.16,324.45 L186.64,324.90 L187.13,325.33 L187.61,325.74 L188.10,326.12 L188.58,326.49 L189.07,326.83 L189.55,327.17 L190.04,327.49 L190.52,327.80 L191.01,328.10 L191.49,328.40 L191.98,328.69 L192.46,328.98 L192.95,329.27 L193.43,329.57 L193.92,329.87 L194.40,330.18 L194.89,330.50 L195.37,330.83 L195.86,331.18 L196.34,331.54 L196.83,331.91 L197.31,332.29 L197.80,332.67 L198.28,333.06 L198.76,333.45 L199.25,333.84 L199.73,334.24 L200.22,334.64 L200.70,335.04 L201.19,335.44 L201.67,335.84 L202.16,336.24 L202.64,336.64 L203.13,337.04 L203.61,337.43 L204.10,337.83 L204.58,338.21 L205.07,338.60 L205.55,338.98 L206.04,339.35 L206.52,339.72 L207.01,340.09 L207.49,340.45 L207.98,340.80 L208.46,341.15 L208.95,341.50 L209.43,341.85 L209.92,342.20 L210.40,342.54 L210.88,342.88 L211.37,343.22 L211.85,343.55 L212.34,343.89 L212.82,344.22 L213.31,344.56 L213.79,344.89 L214.28,345.22 L214.76,345.56 L215.25,345.89 L215.73,346.22 L216.22,346.56 L216.70,346.89 L217.19,347.22 L217.67,347.56 L218.16,347.89 L218.64,348.22 L219.13,348.54 L219.61,348.87 L220.10,349.20 L220.58,349.52 L221.07,349.85 L221.55,350.17 L222.04,350.50 L222.52,350.82 L223.00,351.15 L223.49,351.47 L223.97,351.80 L224.46,352.13 L224.94,352.46 L225.43,352.79 L225.91,353.12 L226.40,353.45 L226.88,353.79 L227.37,354.12 L227.85,354.46 L228.34,354.81 L228.82,355.16 L229.31,355.51 L229.79,355.86 L230.28,356.22 L230.76,356.58 L231.25,356.94 L231.73,357.29 L232.22,357.65 L232.70,358.01 L233.19,358.37 L233.67,358.72 L234.16,359.07 L234.64,359.42 L235.12,359.77 L235.61,360.11 L236.09,360.45 L236.58,360.78 L237.06,361.11 L237.55,361.43 L238.03,361.74 L238.52,362.06 L239.00,362.38 L239.49,362.70 L239.97,363.01 L240.46,363.33 L240.94,363.64 L241.43,363.95 L241.91,364.25 L242.40,364.56 L242.88,364.85 L243.37,365.15 L243.85,365.43 L244.34,365.72 L244.82,365.99 L245.31,366.26 L245.79,366.52 L246.28,366.77 L246.76,367.02 L247.24,367.25 L247.73,367.48 L248.21,367.70 L248.70,367.91 L249.18,368.11 L249.67,368.30 L250.15,368.48 L250.64,368.66 L251.12,368.83 L251.61,369.00 L252.09,369.15 L252.58,369.31 L253.06,369.45 L253.55,369.59 L254.03,369.73 L254.52,369.86 L255.00,369.98 L255.49,370.10 L255.97,370.22 L256.46,370.33 L256.94,370.44 L257.43,370.55 L257.91,370.65 L258.40,370.75 L258.88,370.84 L259.36,370.93 L259.85,371.02 L260.33,371.10 L260.82,371.18 L261.30,371.26 L261.79,371.32 L262.27,371.39 L262.76,371.45 L263.24,371.50 L263.73,371.56 L264.21,371.60 L264.70,371.64 L265.18,371.68 L265.67,371.71 L266.15,371.74 L266.64,371.76 L267.12,371.78 L267.61,371.79 L268.09,371.80 L268.58,371.80 L269.06,371.80 L269.55,371.80 L270.03,371.80 L270.52,371.80 L271.00,371.80 L271.48,371.80 L271.97,371.80 L272.45,371.80 L272.94,371.80 L273.42,371.80 L273.91,371.80 L274.39,371.80 L274.88,371.80 L275.36,371.80 L275.85,371.80 L276.33,371.80 L276.82,371.80 L277.30,371.80 L277.79,371.80 L278.27,371.80 L278.76,371.80 L279.24,371.80 L279.73,371.80 L280.21,371.80 L280.70,371.80 L281.18,371.80 L281.67,371.80 L282.15,371.80 L282.64,371.80 L283.12,371.80 L283.60,371.80 L284.09,371.80 L284.57,371.80 L285.06,371.80 L285.54,371.80 L286.03,371.80 L286.51,371.80 L287.00,371.80 L287.48,371.80 L287.97,371.80 L288.45,371.80 L288.94,371.80 L289.42,371.80 L289.91,371.80 L290.39,371.80 L290.88,371.80 L291.36,371.80 L291.85,371.80 L292.33,371.80 L292.82,371.80 L293.30,371.80 L293.79,371.80 L294.27,371.80 L294.76,371.80 L295.24,371.80 L295.72,371.80 L296.21,371.80 L296.69,371.80 L297.18,371.80 L297.66,371.80 L298.15,371.80 L298.63,371.80 L299.12,371.80 L299.60,371.80 L300.09,371.80 L300.57,371.80 L301.06,371.80 L301.54,371.80 L302.03,371.80 L302.51,371.80 L303.00,371.80 L303.48,371.80 L303.97,371.80 L304.45,371.80 L304.94,371.80 L305.42,371.80 L305.91,371.80 L306.39,371.80 L306.88,371.80 L307.36,371.80 L307.84,371.80 L308.33,371.80 L308.81,371.80 L309.30,371.80 L309.78,371.80 L310.27,371.80 L310.75,371.80 L311.24,371.80 L311.72,371.80 L312.21,371.80 L312.69,371.80 L313.18,371.80 L313.66,371.80 L314.15,371.80 L314.63,371.80 L315.12,371.80 L315.60,371.80 L316.09,371.80 L316.57,371.80 L317.06,371.80 L317.54,371.80 L318.03,371.80 L318.51,371.80 L319.00,371.80 L319.48,371.80 L319.96,371.80 L320.45,371.80 L320.93,371.80 L321.42,371.80 L321.90,371.80 L322.39,371.80 L322.87,371.80 L323.36,371.80 L323.84,371.80 L324.33,371.80 L324.81,371.80 L325.30,371.80 L325.78,371.80 L326.27,371.80 L326.75,371.80 L327.24,371.80 L327.72,371.80 L328.21,371.80 L328.69,371.80 L329.18,371.80 L329.66,371.80 L330.15,371.80 L330.63,371.80 L331.12,371.80 L331.60,371.80 Z" fill="url(#hatch)"/>
<path d="M89.2,372.0 L89.2,221.5 L331.6,221.5" stroke="#111" stroke-width="1.3" fill="none"/>
<path d="M89.2,372.0 L331.6,372.0" stroke="#111" stroke-width="1.3" fill="none"/>
<path d="M89.20,371.80 L89.68,371.80 L90.17,371.80 L90.65,371.80 L91.14,371.80 L91.62,371.80 L92.11,371.72 L92.59,371.52 L93.08,371.21 L93.56,370.84 L94.05,370.44 L94.53,370.01 L95.02,369.53 L95.50,368.96 L95.99,368.27 L96.47,367.45 L96.96,366.48 L97.44,365.26 L97.93,363.74 L98.41,361.83 L98.90,359.05 L99.38,355.79 L99.87,353.06 L100.35,350.02 L100.84,346.55 L101.32,343.13 L101.80,336.87 L102.29,329.43 L102.77,322.48 L103.26,316.95 L103.74,312.01 L104.23,307.53 L104.71,303.38 L105.20,299.46 L105.68,295.87 L106.17,292.72 L106.65,289.78 L107.14,286.86 L107.62,283.75 L108.11,280.30 L108.59,276.74 L109.08,273.02 L109.56,268.99 L110.05,264.51 L110.53,258.88 L111.02,252.86 L111.50,248.31 L111.99,244.97 L112.47,242.37 L112.96,240.31 L113.44,238.68 L113.92,237.55 L114.41,236.79 L114.89,236.25 L115.38,235.80 L115.86,235.42 L116.35,235.26 L116.83,235.24 L117.32,235.28 L117.80,235.30 L118.29,235.43 L118.77,235.72 L119.26,236.14 L119.74,236.67 L120.23,237.29 L120.71,237.98 L121.20,238.69 L121.68,239.45 L122.17,240.31 L122.65,241.27 L123.14,242.28 L123.62,243.33 L124.11,244.39 L124.59,245.43 L125.08,246.41 L125.56,247.41 L126.04,248.42 L126.53,249.45 L127.01,250.48 L127.50,251.49 L127.98,252.47 L128.47,253.40 L128.95,254.27 L129.44,255.07 L129.92,255.79 L130.41,256.44 L130.89,257.05 L131.38,257.60 L131.86,258.12 L132.35,258.59 L132.83,259.04 L133.32,259.46 L133.80,259.85 L134.29,260.24 L134.77,260.61 L135.26,260.97 L135.74,261.31 L136.23,261.62 L136.71,261.90 L137.20,262.17 L137.68,262.41 L138.16,262.64 L138.65,262.86 L139.13,263.07 L139.62,263.28 L140.10,263.48 L140.59,263.68 L141.07,263.89 L141.56,264.10 L142.04,264.32 L142.53,264.56 L143.01,264.79 L143.50,265.00 L143.98,265.20 L144.47,265.40 L144.95,265.59 L145.44,265.79 L145.92,265.98 L146.41,266.19 L146.89,266.40 L147.38,266.64 L147.86,266.88 L148.35,267.16 L148.83,267.45 L149.32,267.78 L149.80,268.13 L150.28,268.53 L150.77,268.95 L151.25,269.40 L151.74,269.87 L152.22,270.37 L152.71,270.88 L153.19,271.42 L153.68,271.96 L154.16,272.52 L154.65,273.09 L155.13,273.66 L155.62,274.24 L156.10,274.84 L156.59,275.46 L157.07,276.09 L157.56,276.74 L158.04,277.40 L158.53,278.06 L159.01,278.73 L159.50,279.41 L159.98,280.08 L160.47,280.76 L160.95,281.43 L161.44,282.10 L161.92,282.78 L162.40,283.47 L162.89,284.16 L163.37,284.87 L163.86,285.60 L164.34,286.35 L164.83,287.12 L165.31,287.91 L165.80,288.71 L166.28,289.52 L166.77,290.34 L167.25,291.17 L167.74,292.01 L168.22,292.85 L168.71,293.69 L169.19,294.53 L169.68,295.36 L170.16,296.20 L170.65,297.06 L171.13,297.93 L171.62,298.80 L172.10,299.68 L172.59,300.55 L173.07,301.42 L173.56,302.27 L174.04,303.11 L174.52,303.92 L175.01,304.71 L175.49,305.46 L175.98,306.19 L176.46,306.91 L176.95,307.61 L177.43,308.31 L177.92,308.99 L178.40,309.66 L178.89,310.32 L179.37,310.98 L179.86,311.62 L180.34,312.25 L180.83,312.88 L181.31,313.49 L181.80,314.10 L182.28,314.70 L182.77,315.30 L183.25,315.89 L183.74,316.47 L184.22,317.05 L184.71,317.62 L185.19,318.19 L185.68,318.75 L186.16,319.31 L186.64,319.85 L187.13,320.39 L187.61,320.91 L188.10,321.43 L188.58,321.93 L189.07,322.43 L189.55,322.92 L190.04,323.40 L190.52,323.88 L191.01,324.36 L191.49,324.83 L191.98,325.29 L192.46,325.76 L192.95,326.23 L193.43,326.69 L193.92,327.16 L194.40,327.63 L194.89,328.10 L195.37,328.58 L195.86,329.06 L196.34,329.54 L196.83,330.03 L197.31,330.53 L197.80,331.02 L198.28,331.52 L198.76,332.02 L199.25,332.52 L199.73,333.03 L200.22,333.53 L200.70,334.03 L201.19,334.52 L201.67,335.02 L202.16,335.51 L202.64,336.00 L203.13,336.49 L203.61,336.97 L204.10,337.45 L204.58,337.91 L205.07,338.38 L205.55,338.83 L206.04,339.28 L206.52,339.72 L207.01,340.15 L207.49,340.58 L207.98,340.99 L208.46,341.40 L208.95,341.80 L209.43,342.19 L209.92,342.58 L210.40,342.97 L210.88,343.35 L211.37,343.72 L211.85,344.10 L212.34,344.47 L212.82,344.84 L213.31,345.21 L213.79,345.58 L214.28,345.95 L214.76,346.32 L215.25,346.70 L215.73,347.07 L216.22,347.45 L216.70,347.84 L217.19,348.22 L217.67,348.61 L218.16,349.01 L218.64,349.40 L219.13,349.80 L219.61,350.20 L220.10,350.61 L220.58,351.01 L221.07,351.41 L221.55,351.81 L222.04,352.21 L222.52,352.60 L223.00,353.00 L223.49,353.39 L223.97,353.77 L224.46,354.15 L224.94,354.53 L225.43,354.90 L225.91,355.26 L226.40,355.62 L226.88,355.97 L227.37,356.31 L227.85,356.64 L228.34,356.97 L228.82,357.29 L229.31,357.60 L229.79,357.91 L230.28,358.21 L230.76,358.51 L231.25,358.81 L231.73,359.10 L232.22,359.39 L232.70,359.67 L233.19,359.95 L233.67,360.23 L234.16,360.50 L234.64,360.77 L235.12,361.05 L235.61,361.31 L236.09,361.58 L236.58,361.85 L237.06,362.12 L237.55,362.38 L238.03,362.65 L238.52,362.91 L239.00,363.18 L239.49,363.44 L239.97,363.71 L240.46,363.97 L240.94,364.23 L241.43,364.48 L241.91,364.74 L242.40,364.99 L242.88,365.24 L243.37,365.48 L243.85,365.73 L244.34,365.96 L244.82,366.20 L245.31,366.43 L245.79,366.65 L246.28,366.87 L246.76,367.08 L247.24,367.29 L247.73,367.49 L248.21,367.68 L248.70,367.88 L249.18,368.06 L249.67,368.24 L250.15,368.42 L250.64,368.59 L251.12,368.76 L251.61,368.93 L252.09,369.09 L252.58,369.24 L253.06,369.39 L253.55,369.54 L254.03,369.68 L254.52,369.82 L255.00,369.95 L255.49,370.08 L255.97,370.20 L256.46,370.32 L256.94,370.43 L257.43,370.54 L257.91,370.65 L258.40,370.75 L258.88,370.84 L259.36,370.93 L259.85,371.02 L260.33,371.10 L260.82,371.18 L261.30,371.26 L261.79,371.32 L262.27,371.39 L262.76,371.45 L263.24,371.50 L263.73,371.56 L264.21,371.60 L264.70,371.64 L265.18,371.68 L265.67,371.71 L266.15,371.74 L266.64,371.76 L267.12,371.78 L267.61,371.79 L268.09,371.80 L268.58,371.80 L269.06,371.80 L269.55,371.80 L270.03,371.80 L270.52,371.80 L271.00,371.80 L271.48,371.80 L271.97,371.80 L272.45,371.80 L272.94,371.80 L273.42,371.80 L273.91,371.80 L274.39,371.80 L274.88,371.80 L275.36,371.80 L275.85,371.80 L276.33,371.80 L276.82,371.80 L277.30,371.80 L277.79,371.80 L278.27,371.80 L278.76,371.80 L279.24,371.80 L279.73,371.80 L280.21,371.80 L280.70,371.80 L281.18,371.80 L281.67,371.80 L282.15,371.80 L282.64,371.80 L283.12,371.80 L283.60,371.80 L284.09,371.80 L284.57,371.80 L285.06,371.80 L285.54,371.80 L286.03,371.80 L286.51,371.80 L287.00,371.80 L287.48,371.80 L287.97,371.80 L288.45,371.80 L288.94,371.80 L289.42,371.80 L289.91,371.80 L290.39,371.80 L290.88,371.80 L291.36,371.80 L291.85,371.80 L292.33,371.80 L292.82,371.80 L293.30,371.80 L293.79,371.80 L294.27,371.80 L294.76,371.80 L295.24,371.80 L295.72,371.80 L296.21,371.80 L296.69,371.80 L297.18,371.80 L297.66,371.80 L298.15,371.80 L298.63,371.80 L299.12,371.80 L299.60,371.80 L300.09,371.80 L300.57,371.80 L301.06,371.80 L301.54,371.80 L302.03,371.80 L302.51,371.80 L303.00,371.80 L303.48,371.80 L303.97,371.80 L304.45,371.80 L304.94,371.80 L305.42,371.80 L305.91,371.80 L306.39,371.80 L306.88,371.80 L307.36,371.80 L307.84,371.80 L308.33,371.80 L308.81,371.80 L309.30,371.80 L309.78,371.80 L310.27,371.80 L310.75,371.80 L311.24,371.80 L311.72,371.80 L312.21,371.80 L312.69,371.80 L313.18,371.80 L313.66,371.80 L314.15,371.80 L314.63,371.80 L315.12,371.80 L315.60,371.80 L316.09,371.80 L316.57,371.80 L317.06,371.80 L317.54,371.80 L318.03,371.80 L318.51,371.80 L319.00,371.80 L319.48,371.80 L319.96,371.80 L320.45,371.80 L320.93,371.80 L321.42,371.80 L321.90,371.80 L322.39,371.80 L322.87,371.80 L323.36,371.80 L323.84,371.80 L324.33,371.80 L324.81,371.80 L325.30,371.80 L325.78,371.80 L326.27,371.80 L326.75,371.80 L327.24,371.80 L327.72,371.80 L328.21,371.80 L328.69,371.80 L329.18,371.80 L329.66,371.80 L330.15,371.80 L330.63,371.80 L331.12,371.80 L331.60,371.80" stroke="#787878" stroke-width="1.5" fill="none" stroke-linejoin="round" stroke-linecap="round" />
<path d="M89.20,371.80 L89.68,371.80 L90.17,371.80 L90.65,371.80 L91.14,371.80 L91.62,371.80 L92.11,371.74 L92.59,371.58 L93.08,371.31 L93.56,370.98 L94.05,370.60 L94.53,370.21 L95.02,369.77 L95.50,369.26 L95.99,368.64 L96.47,367.90 L96.96,367.01 L97.44,365.91 L97.93,364.54 L98.41,362.79 L98.90,360.31 L99.38,357.34 L99.87,354.54 L100.35,351.59 L100.84,348.32 L101.32,344.98 L101.80,339.44 L102.29,332.55 L102.77,325.73 L103.26,320.04 L103.74,315.12 L104.23,310.72 L104.71,306.67 L105.20,302.86 L105.68,299.35 L106.17,296.13 L106.65,293.04 L107.14,289.90 L107.62,286.65 L108.11,283.12 L108.59,279.45 L109.08,275.53 L109.56,271.09 L110.05,266.15 L110.53,260.57 L111.02,255.14 L111.50,251.06 L111.99,248.04 L112.47,245.66 L112.96,243.77 L113.44,242.30 L113.92,241.26 L114.41,240.52 L114.89,239.95 L115.38,239.46 L115.86,239.05 L116.35,238.83 L116.83,238.75 L117.32,238.76 L117.80,238.79 L118.29,238.92 L118.77,239.19 L119.26,239.59 L119.74,240.08 L120.23,240.66 L120.71,241.31 L121.20,242.00 L121.68,242.74 L122.17,243.60 L122.65,244.55 L123.14,245.57 L123.62,246.63 L124.11,247.70 L124.59,248.75 L125.08,249.75 L125.56,250.76 L126.04,251.81 L126.53,252.87 L127.01,253.92 L127.50,254.97 L127.98,255.97 L128.47,256.94 L128.95,257.83 L129.44,258.65 L129.92,259.38 L130.41,260.04 L130.89,260.64 L131.38,261.19 L131.86,261.70 L132.35,262.17 L132.83,262.60 L133.32,263.01 L133.80,263.40 L134.29,263.78 L134.77,264.15 L135.26,264.52 L135.74,264.87 L136.23,265.19 L136.71,265.50 L137.20,265.78 L137.68,266.05 L138.16,266.30 L138.65,266.54 L139.13,266.78 L139.62,267.00 L140.10,267.22 L140.59,267.44 L141.07,267.67 L141.56,267.89 L142.04,268.12 L142.53,268.36 L143.01,268.58 L143.50,268.79 L143.98,268.99 L144.47,269.18 L144.95,269.37 L145.44,269.55 L145.92,269.74 L146.41,269.93 L146.89,270.13 L147.38,270.34 L147.86,270.57 L148.35,270.81 L148.83,271.09 L149.32,271.38 L149.80,271.71 L150.28,272.07 L150.77,272.45 L151.25,272.86 L151.74,273.28 L152.22,273.73 L152.71,274.19 L153.19,274.67 L153.68,275.17 L154.16,275.68 L154.65,276.21 L155.13,276.74 L155.62,277.30 L156.10,277.88 L156.59,278.47 L157.07,279.09 L157.56,279.72 L158.04,280.36 L158.53,281.01 L159.01,281.67 L159.50,282.33 L159.98,282.98 L160.47,283.64 L160.95,284.28 L161.44,284.93 L161.92,285.58 L162.40,286.23 L162.89,286.90 L163.37,287.57 L163.86,288.27 L164.34,288.98 L164.83,289.71 L165.31,290.45 L165.80,291.21 L166.28,291.99 L166.77,292.77 L167.25,293.55 L167.74,294.34 L168.22,295.13 L168.71,295.92 L169.19,296.71 L169.68,297.49 L170.16,298.27 L170.65,299.06 L171.13,299.86 L171.62,300.66 L172.10,301.46 L172.59,302.26 L173.07,303.05 L173.56,303.83 L174.04,304.60 L174.52,305.36 L175.01,306.09 L175.49,306.81 L175.98,307.51 L176.46,308.21 L176.95,308.90 L177.43,309.58 L177.92,310.26 L178.40,310.93 L178.89,311.60 L179.37,312.26 L179.86,312.91 L180.34,313.56 L180.83,314.19 L181.31,314.82 L181.80,315.44 L182.28,316.06 L182.77,316.66 L183.25,317.26 L183.74,317.85 L184.22,318.43 L184.71,319.00 L185.19,319.56 L185.68,320.11 L186.16,320.64 L186.64,321.17 L187.13,321.67 L187.61,322.17 L188.10,322.65 L188.58,323.12 L189.07,323.57 L189.55,324.02 L190.04,324.47 L190.52,324.90 L191.01,325.33 L191.49,325.75 L191.98,326.18 L192.46,326.60 L192.95,327.02 L193.43,327.44 L193.92,327.86 L194.40,328.29 L194.89,328.72 L195.37,329.16 L195.86,329.61 L196.34,330.06 L196.83,330.52 L197.31,330.99 L197.80,331.45 L198.28,331.92 L198.76,332.39 L199.25,332.87 L199.73,333.34 L200.22,333.82 L200.70,334.29 L201.19,334.76 L201.67,335.23 L202.16,335.70 L202.64,336.17 L203.13,336.63 L203.61,337.09 L204.10,337.54 L204.58,337.99 L205.07,338.44 L205.55,338.87 L206.04,339.30 L206.52,339.72 L207.01,340.14 L207.49,340.54 L207.98,340.94 L208.46,341.33 L208.95,341.72 L209.43,342.10 L209.92,342.48 L210.40,342.86 L210.88,343.23 L211.37,343.59 L211.85,343.96 L212.34,344.32 L212.82,344.68 L213.31,345.04 L213.79,345.40 L214.28,345.76 L214.76,346.12 L215.25,346.49 L215.73,346.85 L216.22,347.22 L216.70,347.59 L217.19,347.96 L217.67,348.34 L218.16,348.72 L218.64,349.10 L219.13,349.48 L219.61,349.86 L220.10,350.24 L220.58,350.62 L221.07,351.00 L221.55,351.38 L222.04,351.76 L222.52,352.14 L223.00,352.51 L223.49,352.89 L223.97,353.26 L224.46,353.63 L224.94,353.99 L225.43,354.35 L225.91,354.70 L226.40,355.05 L226.88,355.40 L227.37,355.74 L227.85,356.07 L228.34,356.41 L228.82,356.73 L229.31,357.06 L229.79,357.38 L230.28,357.70 L230.76,358.01 L231.25,358.32 L231.73,358.63 L232.22,358.94 L232.70,359.24 L233.19,359.54 L233.67,359.84 L234.16,360.13 L234.64,360.42 L235.12,360.71 L235.61,361.00 L236.09,361.29 L236.58,361.57 L237.06,361.85 L237.55,362.13 L238.03,362.41 L238.52,362.69 L239.00,362.97 L239.49,363.25 L239.97,363.53 L240.46,363.80 L240.94,364.07 L241.43,364.34 L241.91,364.61 L242.40,364.88 L242.88,365.14 L243.37,365.40 L243.85,365.65 L244.34,365.90 L244.82,366.14 L245.31,366.38 L245.79,366.62 L246.28,366.84 L246.76,367.07 L247.24,367.28 L247.73,367.49 L248.21,367.69 L248.70,367.88 L249.18,368.07 L249.67,368.26 L250.15,368.44 L250.64,368.61 L251.12,368.78 L251.61,368.94 L252.09,369.10 L252.58,369.26 L253.06,369.41 L253.55,369.55 L254.03,369.69 L254.52,369.83 L255.00,369.96 L255.49,370.08 L255.97,370.21 L256.46,370.32 L256.94,370.43 L257.43,370.54 L257.91,370.65 L258.40,370.75 L258.88,370.84 L259.36,370.93 L259.85,371.02 L260.33,371.10 L260.82,371.18 L261.30,371.26 L261.79,371.32 L262.27,371.39 L262.76,371.45 L263.24,371.50 L263.73,371.56 L264.21,371.60 L264.70,371.64 L265.18,371.68 L265.67,371.71 L266.15,371.74 L266.64,371.76 L267.12,371.78 L267.61,371.79 L268.09,371.80 L268.58,371.80 L269.06,371.80 L269.55,371.80 L270.03,371.80 L270.52,371.80 L271.00,371.80 L271.48,371.80 L271.97,371.80 L272.45,371.80 L272.94,371.80 L273.42,371.80 L273.91,371.80 L274.39,371.80 L274.88,371.80 L275.36,371.80 L275.85,371.80 L276.33,371.80 L276.82,371.80 L277.30,371.80 L277.79,371.80 L278.27,371.80 L278.76,371.80 L279.24,371.80 L279.73,371.80 L280.21,371.80 L280.70,371.80 L281.18,371.80 L281.67,371.80 L282.15,371.80 L282.64,371.80 L283.12,371.80 L283.60,371.80 L284.09,371.80 L284.57,371.80 L285.06,371.80 L285.54,371.80 L286.03,371.80 L286.51,371.80 L287.00,371.80 L287.48,371.80 L287.97,371.80 L288.45,371.80 L288.94,371.80 L289.42,371.80 L289.91,371.80 L290.39,371.80 L290.88,371.80 L291.36,371.80 L291.85,371.80 L292.33,371.80 L292.82,371.80 L293.30,371.80 L293.79,371.80 L294.27,371.80 L294.76,371.80 L295.24,371.80 L295.72,371.80 L296.21,371.80 L296.69,371.80 L297.18,371.80 L297.66,371.80 L298.15,371.80 L298.63,371.80 L299.12,371.80 L299.60,371.80 L300.09,371.80 L300.57,371.80 L301.06,371.80 L301.54,371.80 L302.03,371.80 L302.51,371.80 L303.00,371.80 L303.48,371.80 L303.97,371.80 L304.45,371.80 L304.94,371.80 L305.42,371.80 L305.91,371.80 L306.39,371.80 L306.88,371.80 L307.36,371.80 L307.84,371.80 L308.33,371.80 L308.81,371.80 L309.30,371.80 L309.78,371.80 L310.27,371.80 L310.75,371.80 L311.24,371.80 L311.72,371.80 L312.21,371.80 L312.69,371.80 L313.18,371.80 L313.66,371.80 L314.15,371.80 L314.63,371.80 L315.12,371.80 L315.60,371.80 L316.09,371.80 L316.57,371.80 L317.06,371.80 L317.54,371.80 L318.03,371.80 L318.51,371.80 L319.00,371.80 L319.48,371.80 L319.96,371.80 L320.45,371.80 L320.93,371.80 L321.42,371.80 L321.90,371.80 L322.39,371.80 L322.87,371.80 L323.36,371.80 L323.84,371.80 L324.33,371.80 L324.81,371.80 L325.30,371.80 L325.78,371.80 L326.27,371.80 L326.75,371.80 L327.24,371.80 L327.72,371.80 L328.21,371.80 L328.69,371.80 L329.18,371.80 L329.66,371.80 L330.15,371.80 L330.63,371.80 L331.12,371.80 L331.60,371.80" stroke="#f7a24a" stroke-width="1.5" fill="none" stroke-linejoin="round" stroke-linecap="round" />
<path d="M89.20,371.80 L89.68,371.80 L90.17,371.80 L90.65,371.80 L91.14,371.80 L91.62,371.80 L92.11,371.80 L92.59,371.74 L93.08,371.59 L93.56,371.36 L94.05,371.08 L94.53,370.77 L95.02,370.45 L95.50,370.10 L95.99,369.69 L96.47,369.17 L96.96,368.52 L97.44,367.76 L97.93,366.79 L98.41,365.52 L98.90,363.90 L99.38,361.74 L99.87,358.73 L100.35,356.05 L100.84,353.37 L101.32,350.23 L101.80,346.75 L102.29,341.42 L102.77,335.00 L103.26,328.85 L103.74,323.97 L104.23,319.78 L104.71,316.03 L105.20,312.56 L105.68,309.22 L106.17,305.86 L106.65,302.32 L107.14,298.57 L107.62,294.90 L108.11,291.17 L108.59,287.16 L109.08,282.67 L109.56,277.06 L110.05,270.83 L110.53,265.38 L111.02,261.61 L111.50,258.88 L111.99,256.80 L112.47,255.02 L112.96,253.61 L113.44,252.58 L113.92,251.80 L114.41,251.13 L114.89,250.46 L115.38,249.87 L115.86,249.37 L116.35,249.00 L116.83,248.76 L117.32,248.68 L117.80,248.72 L118.29,248.86 L118.77,249.09 L119.26,249.40 L119.74,249.79 L120.23,250.26 L120.71,250.80 L121.20,251.41 L121.68,252.11 L122.17,252.95 L122.65,253.90 L123.14,254.94 L123.62,256.02 L124.11,257.12 L124.59,258.21 L125.08,259.26 L125.56,260.33 L126.04,261.44 L126.53,262.58 L127.01,263.73 L127.50,264.86 L127.98,265.96 L128.47,267.00 L128.95,267.97 L129.44,268.84 L129.92,269.59 L130.41,270.27 L130.89,270.87 L131.38,271.41 L131.86,271.89 L132.35,272.34 L132.83,272.75 L133.32,273.13 L133.80,273.50 L134.29,273.87 L134.77,274.24 L135.26,274.63 L135.74,275.01 L136.23,275.37 L136.71,275.72 L137.20,276.06 L137.68,276.39 L138.16,276.71 L138.65,277.01 L139.13,277.31 L139.62,277.60 L140.10,277.88 L140.59,278.15 L141.07,278.41 L141.56,278.67 L142.04,278.92 L142.53,279.16 L143.01,279.39 L143.50,279.60 L143.98,279.78 L144.47,279.95 L144.95,280.11 L145.44,280.27 L145.92,280.41 L146.41,280.56 L146.89,280.72 L147.38,280.87 L147.86,281.04 L148.35,281.23 L148.83,281.43 L149.32,281.65 L149.80,281.90 L150.28,282.16 L150.77,282.42 L151.25,282.70 L151.74,282.99 L152.22,283.29 L152.71,283.61 L153.19,283.95 L153.68,284.31 L154.16,284.69 L154.65,285.10 L155.13,285.53 L155.62,286.00 L156.10,286.51 L156.59,287.05 L157.07,287.62 L157.56,288.21 L158.04,288.81 L158.53,289.42 L159.01,290.03 L159.50,290.64 L159.98,291.24 L160.47,291.83 L160.95,292.41 L161.44,292.97 L161.92,293.54 L162.40,294.11 L162.89,294.68 L163.37,295.26 L163.86,295.85 L164.34,296.45 L164.83,297.07 L165.31,297.71 L165.80,298.35 L166.28,299.00 L166.77,299.66 L167.25,300.32 L167.74,300.98 L168.22,301.64 L168.71,302.29 L169.19,302.92 L169.68,303.55 L170.16,304.16 L170.65,304.76 L171.13,305.36 L171.62,305.95 L172.10,306.53 L172.59,307.11 L173.07,307.69 L173.56,308.27 L174.04,308.85 L174.52,309.44 L175.01,310.04 L175.49,310.65 L175.98,311.27 L176.46,311.90 L176.95,312.55 L177.43,313.21 L177.92,313.88 L178.40,314.55 L178.89,315.23 L179.37,315.91 L179.86,316.59 L180.34,317.27 L180.83,317.94 L181.31,318.61 L181.80,319.27 L182.28,319.91 L182.77,320.55 L183.25,321.17 L183.74,321.77 L184.22,322.35 L184.71,322.92 L185.19,323.45 L185.68,323.96 L186.16,324.45 L186.64,324.90 L187.13,325.33 L187.61,325.74 L188.10,326.12 L188.58,326.49 L189.07,326.83 L189.55,327.17 L190.04,327.49 L190.52,327.80 L191.01,328.10 L191.49,328.40 L191.98,328.69 L192.46,328.98 L192.95,329.27 L193.43,329.57 L193.92,329.87 L194.40,330.18 L194.89,330.50 L195.37,330.83 L195.86,331.18 L196.34,331.54 L196.83,331.91 L197.31,332.29 L197.80,332.67 L198.28,333.06 L198.76,333.45 L199.25,333.84 L199.73,334.24 L200.22,334.64 L200.70,335.04 L201.19,335.44 L201.67,335.84 L202.16,336.24 L202.64,336.64 L203.13,337.04 L203.61,337.43 L204.10,337.83 L204.58,338.21 L205.07,338.60 L205.55,338.98 L206.04,339.35 L206.52,339.72 L207.01,340.09 L207.49,340.45 L207.98,340.80 L208.46,341.15 L208.95,341.50 L209.43,341.85 L209.92,342.20 L210.40,342.54 L210.88,342.88 L211.37,343.22 L211.85,343.55 L212.34,343.89 L212.82,344.22 L213.31,344.56 L213.79,344.89 L214.28,345.22 L214.76,345.56 L215.25,345.89 L215.73,346.22 L216.22,346.56 L216.70,346.89 L217.19,347.22 L217.67,347.56 L218.16,347.89 L218.64,348.22 L219.13,348.54 L219.61,348.87 L220.10,349.20 L220.58,349.52 L221.07,349.85 L221.55,350.17 L222.04,350.50 L222.52,350.82 L223.00,351.15 L223.49,351.47 L223.97,351.80 L224.46,352.13 L224.94,352.46 L225.43,352.79 L225.91,353.12 L226.40,353.45 L226.88,353.79 L227.37,354.12 L227.85,354.46 L228.34,354.81 L228.82,355.16 L229.31,355.51 L229.79,355.86 L230.28,356.22 L230.76,356.58 L231.25,356.94 L231.73,357.29 L232.22,357.65 L232.70,358.01 L233.19,358.37 L233.67,358.72 L234.16,359.07 L234.64,359.42 L235.12,359.77 L235.61,360.11 L236.09,360.45 L236.58,360.78 L237.06,361.11 L237.55,361.43 L238.03,361.74 L238.52,362.06 L239.00,362.38 L239.49,362.70 L239.97,363.01 L240.46,363.33 L240.94,363.64 L241.43,363.95 L241.91,364.25 L242.40,364.56 L242.88,364.85 L243.37,365.15 L243.85,365.43 L244.34,365.72 L244.82,365.99 L245.31,366.26 L245.79,366.52 L246.28,366.77 L246.76,367.02 L247.24,367.25 L247.73,367.48 L248.21,367.70 L248.70,367.91 L249.18,368.11 L249.67,368.30 L250.15,368.48 L250.64,368.66 L251.12,368.83 L251.61,369.00 L252.09,369.15 L252.58,369.31 L253.06,369.45 L253.55,369.59 L254.03,369.73 L254.52,369.86 L255.00,369.98 L255.49,370.10 L255.97,370.22 L256.46,370.33 L256.94,370.44 L257.43,370.55 L257.91,370.65 L258.40,370.75 L258.88,370.84 L259.36,370.93 L259.85,371.02 L260.33,371.10 L260.82,371.18 L261.30,371.26 L261.79,371.32 L262.27,371.39 L262.76,371.45 L263.24,371.50 L263.73,371.56 L264.21,371.60 L264.70,371.64 L265.18,371.68 L265.67,371.71 L266.15,371.74 L266.64,371.76 L267.12,371.78 L267.61,371.79 L268.09,371.80 L268.58,371.80 L269.06,371.80 L269.55,371.80 L270.03,371.80 L270.52,371.80 L271.00,371.80 L271.48,371.80 L271.97,371.80 L272.45,371.80 L272.94,371.80 L273.42,371.80 L273.91,371.80 L274.39,371.80 L274.88,371.80 L275.36,371.80 L275.85,371.80 L276.33,371.80 L276.82,371.80 L277.30,371.80 L277.79,371.80 L278.27,371.80 L278.76,371.80 L279.24,371.80 L279.73,371.80 L280.21,371.80 L280.70,371.80 L281.18,371.80 L281.67,371.80 L282.15,371.80 L282.64,371.80 L283.12,371.80 L283.60,371.80 L284.09,371.80 L284.57,371.80 L285.06,371.80 L285.54,371.80 L286.03,371.80 L286.51,371.80 L287.00,371.80 L287.48,371.80 L287.97,371.80 L288.45,371.80 L288.94,371.80 L289.42,371.80 L289.91,371.80 L290.39,371.80 L290.88,371.80 L291.36,371.80 L291.85,371.80 L292.33,371.80 L292.82,371.80 L293.30,371.80 L293.79,371.80 L294.27,371.80 L294.76,371.80 L295.24,371.80 L295.72,371.80 L296.21,371.80 L296.69,371.80 L297.18,371.80 L297.66,371.80 L298.15,371.80 L298.63,371.80 L299.12,371.80 L299.60,371.80 L300.09,371.80 L300.57,371.80 L301.06,371.80 L301.54,371.80 L302.03,371.80 L302.51,371.80 L303.00,371.80 L303.48,371.80 L303.97,371.80 L304.45,371.80 L304.94,371.80 L305.42,371.80 L305.91,371.80 L306.39,371.80 L306.88,371.80 L307.36,371.80 L307.84,371.80 L308.33,371.80 L308.81,371.80 L309.30,371.80 L309.78,371.80 L310.27,371.80 L310.75,371.80 L311.24,371.80 L311.72,371.80 L312.21,371.80 L312.69,371.80 L313.18,371.80 L313.66,371.80 L314.15,371.80 L314.63,371.80 L315.12,371.80 L315.60,371.80 L316.09,371.80 L316.57,371.80 L317.06,371.80 L317.54,371.80 L318.03,371.80 L318.51,371.80 L319.00,371.80 L319.48,371.80 L319.96,371.80 L320.45,371.80 L320.93,371.80 L321.42,371.80 L321.90,371.80 L322.39,371.80 L322.87,371.80 L323.36,371.80 L323.84,371.80 L324.33,371.80 L324.81,371.80 L325.30,371.80 L325.78,371.80 L326.27,371.80 L326.75,371.80 L327.24,371.80 L327.72,371.80 L328.21,371.80 L328.69,371.80 L329.18,371.80 L329.66,371.80 L330.15,371.80 L330.63,371.80 L331.12,371.80 L331.60,371.80" stroke="#f014e6" stroke-width="1.5" fill="none" stroke-linejoin="round" stroke-linecap="round" />
<path d="M89.20,371.78 L89.68,371.78 L90.17,371.78 L90.65,371.78 L91.14,371.78 L91.62,371.78 L92.11,371.78 L92.59,371.78 L93.08,371.78 L93.56,371.78 L94.05,371.78 L94.53,371.78 L95.02,371.78 L95.50,371.78 L95.99,371.78 L96.47,371.78 L96.96,371.78 L97.44,371.78 L97.93,371.78 L98.41,371.78 L98.90,371.78 L99.38,371.78 L99.87,371.78 L100.35,371.78 L100.84,371.78 L101.32,371.78 L101.80,371.78 L102.29,371.78 L102.77,371.78 L103.26,371.78 L103.74,371.78 L104.23,371.78 L104.71,371.78 L105.20,371.78 L105.68,371.78 L106.17,371.78 L106.65,371.78 L107.14,371.78 L107.62,371.77 L108.11,371.77 L108.59,371.77 L109.08,371.77 L109.56,371.77 L110.05,371.77 L110.53,371.77 L111.02,371.77 L111.50,371.77 L111.99,371.77 L112.47,371.77 L112.96,371.77 L113.44,371.77 L113.92,371.77 L114.41,371.77 L114.89,371.77 L115.38,371.77 L115.86,371.77 L116.35,371.77 L116.83,371.77 L117.32,371.77 L117.80,371.77 L118.29,371.77 L118.77,371.77 L119.26,371.77 L119.74,371.77 L120.23,371.77 L120.71,371.77 L121.20,371.77 L121.68,371.77 L122.17,371.77 L122.65,371.77 L123.14,371.77 L123.62,371.77 L124.11,371.77 L124.59,371.77 L125.08,371.77 L125.56,371.77 L126.04,371.77 L126.53,371.77 L127.01,371.77 L127.50,371.77 L127.98,371.77 L128.47,371.77 L128.95,371.77 L129.44,371.77 L129.92,371.77 L130.41,371.77 L130.89,371.77 L131.38,371.76 L131.86,371.76 L132.35,371.76 L132.83,371.76 L133.32,371.76 L133.80,371.76 L134.29,371.76 L134.77,371.76 L135.26,371.76 L135.74,371.76 L136.23,371.76 L136.71,371.76 L137.20,371.76 L137.68,371.76 L138.16,371.76 L138.65,371.76 L139.13,371.76 L139.62,371.76 L140.10,371.76 L140.59,371.76 L141.07,371.76 L141.56,371.76 L142.04,371.76 L142.53,371.76 L143.01,371.76 L143.50,371.76 L143.98,371.76 L144.47,371.76 L144.95,371.76 L145.44,371.76 L145.92,371.76 L146.41,371.75 L146.89,371.75 L147.38,371.75 L147.86,371.75 L148.35,371.75 L148.83,371.75 L149.32,371.75 L149.80,371.75 L150.28,371.75 L150.77,371.75 L151.25,371.75 L151.74,371.75 L152.22,371.75 L152.71,371.75 L153.19,371.75 L153.68,371.75 L154.16,371.75 L154.65,371.75 L155.13,371.75 L155.62,371.75 L156.10,371.75 L156.59,371.75 L157.07,371.74 L157.56,371.74 L158.04,371.74 L158.53,371.74 L159.01,371.74 L159.50,371.74 L159.98,371.74 L160.47,371.74 L160.95,371.74 L161.44,371.74 L161.92,371.74 L162.40,371.74 L162.89,371.74 L163.37,371.74 L163.86,371.74 L164.34,371.74 L164.83,371.74 L165.31,371.73 L165.80,371.73 L166.28,371.73 L166.77,371.73 L167.25,371.73 L167.74,371.73 L168.22,371.73 L168.71,371.73 L169.19,371.73 L169.68,371.73 L170.16,371.73 L170.65,371.73 L171.13,371.73 L171.62,371.73 L172.10,371.72 L172.59,371.72 L173.07,371.72 L173.56,371.72 L174.04,371.72 L174.52,371.72 L175.01,371.72 L175.49,371.72 L175.98,371.72 L176.46,371.72 L176.95,371.72 L177.43,371.71 L177.92,371.71 L178.40,371.71 L178.89,371.71 L179.37,371.71 L179.86,371.71 L180.34,371.71 L180.83,371.71 L181.31,371.71 L181.80,371.70 L182.28,371.70 L182.77,371.70 L183.25,371.70 L183.74,371.70 L184.22,371.70 L184.71,371.70 L185.19,371.70 L185.68,371.69 L186.16,371.69 L186.64,371.69 L187.13,371.69 L187.61,371.69 L188.10,371.69 L188.58,371.69 L189.07,371.68 L189.55,371.68 L190.04,371.68 L190.52,371.68 L191.01,371.68 L191.49,371.68 L191.98,371.67 L192.46,371.67 L192.95,371.67 L193.43,371.67 L193.92,371.67 L194.40,371.66 L194.89,371.66 L195.37,371.66 L195.86,371.66 L196.34,371.66 L196.83,371.65 L197.31,371.65 L197.80,371.65 L198.28,371.65 L198.76,371.64 L199.25,371.64 L199.73,371.64 L200.22,371.64 L200.70,371.63 L201.19,371.63 L201.67,371.63 L202.16,371.63 L202.64,371.62 L203.13,371.62 L203.61,371.62 L204.10,371.61 L204.58,371.61 L205.07,371.61 L205.55,371.60 L206.04,371.60 L206.52,371.60 L207.01,371.59 L207.49,371.59 L207.98,371.59 L208.46,371.58 L208.95,371.58 L209.43,371.57 L209.92,371.57 L210.40,371.56 L210.88,371.56 L211.37,371.55 L211.85,371.55 L212.34,371.54 L212.82,371.54 L213.31,371.53 L213.79,371.53 L214.28,371.52 L214.76,371.52 L215.25,371.51 L215.73,371.50 L216.22,371.50 L216.70,371.49 L217.19,371.48 L217.67,371.47 L218.16,371.47 L218.64,371.46 L219.13,371.45 L219.61,371.44 L220.10,371.43 L220.58,371.42 L221.07,371.41 L221.55,371.39 L222.04,371.38 L222.52,371.37 L223.00,371.35 L223.49,371.33 L223.97,371.32 L224.46,371.30 L224.94,371.28 L225.43,371.25 L225.91,371.23 L226.40,371.20 L226.88,371.17 L227.37,371.14 L227.85,371.11 L228.34,371.07 L228.82,371.03 L229.31,370.98 L229.79,370.93 L230.28,370.88 L230.76,370.82 L231.25,370.75 L231.73,370.68 L232.22,370.61 L232.70,370.52 L233.19,370.43 L233.67,370.33 L234.16,370.23 L234.64,370.11 L235.12,369.99 L235.61,369.85 L236.09,369.71 L236.58,369.55 L237.06,369.39 L237.55,369.21 L238.03,369.02 L238.52,368.81 L239.00,368.60 L239.49,368.37 L239.97,368.12 L240.46,367.87 L240.94,367.60 L241.43,367.31 L241.91,367.02 L242.40,366.70 L242.88,366.38 L243.37,366.04 L243.85,365.69 L244.34,365.33 L244.82,364.96 L245.31,364.57 L245.79,364.18 L246.28,363.78 L246.76,363.37 L247.24,362.95 L247.73,362.53 L248.21,362.11 L248.70,361.68 L249.18,361.26 L249.67,360.84 L250.15,360.42 L250.64,360.01 L251.12,359.61 L251.61,359.21 L252.09,358.84 L252.58,358.48 L253.06,358.13 L253.55,357.81 L254.03,357.51 L254.52,357.24 L255.00,357.00 L255.49,356.78 L255.97,356.60 L256.46,356.46 L256.94,356.35 L257.43,356.28 L257.91,356.24 L258.40,356.24 L258.88,356.28 L259.36,356.34 L259.85,356.43 L260.33,356.55 L260.82,356.70 L261.30,356.87 L261.79,357.07 L262.27,357.29 L262.76,357.53 L263.24,357.79 L263.73,358.07 L264.21,358.37 L264.70,358.68 L265.18,359.00 L265.67,359.34 L266.15,359.68 L266.64,360.04 L267.12,360.39 L267.61,360.76 L268.09,361.12 L268.58,361.49 L269.06,361.86 L269.55,362.23 L270.03,362.59 L270.52,362.96 L271.00,363.32 L271.48,363.67 L271.97,364.02 L272.45,364.36 L272.94,364.70 L273.42,365.02 L273.91,365.34 L274.39,365.65 L274.88,365.96 L275.36,366.25 L275.85,366.53 L276.33,366.80 L276.82,367.06 L277.30,367.32 L277.79,367.56 L278.27,367.79 L278.76,368.01 L279.24,368.22 L279.73,368.42 L280.21,368.61 L280.70,368.79 L281.18,368.96 L281.67,369.13 L282.15,369.28 L282.64,369.43 L283.12,369.56 L283.60,369.69 L284.09,369.81 L284.57,369.92 L285.06,370.03 L285.54,370.13 L286.03,370.22 L286.51,370.31 L287.00,370.39 L287.48,370.46 L287.97,370.53 L288.45,370.60 L288.94,370.66 L289.42,370.72 L289.91,370.77 L290.39,370.82 L290.88,370.86 L291.36,370.91 L291.85,370.95 L292.33,370.98 L292.82,371.02 L293.30,371.05 L293.79,371.08 L294.27,371.10 L294.76,371.13 L295.24,371.15 L295.72,371.18 L296.21,371.20 L296.69,371.22 L297.18,371.23 L297.66,371.25 L298.15,371.27 L298.63,371.28 L299.12,371.30 L299.60,371.31 L300.09,371.32 L300.57,371.33 L301.06,371.35 L301.54,371.36 L302.03,371.37 L302.51,371.38 L303.00,371.39 L303.48,371.39 L303.97,371.40 L304.45,371.41 L304.94,371.42 L305.42,371.43 L305.91,371.43 L306.39,371.44 L306.88,371.45 L307.36,371.46 L307.84,371.46 L308.33,371.47 L308.81,371.47 L309.30,371.48 L309.78,371.49 L310.27,371.49 L310.75,371.50 L311.24,371.50 L311.72,371.51 L312.21,371.51 L312.69,371.52 L313.18,371.52 L313.66,371.53 L314.15,371.53 L314.63,371.53 L315.12,371.54 L315.60,371.54 L316.09,371.55 L316.57,371.55 L317.06,371.56 L317.54,371.56 L318.03,371.56 L318.51,371.57 L319.00,371.57 L319.48,371.57 L319.96,371.58 L320.45,371.58 L320.93,371.58 L321.42,371.59 L321.90,371.59 L322.39,371.59 L322.87,371.60 L323.36,371.60 L323.84,371.60 L324.33,371.60 L324.81,371.61 L325.30,371.61 L325.78,371.61 L326.27,371.61 L326.75,371.62 L327.24,371.62 L327.72,371.62 L328.21,371.62 L328.69,371.63 L329.18,371.63 L329.66,371.63 L330.15,371.63 L330.63,371.64 L331.12,371.64 L331.60,371.64" stroke="#111111" stroke-width="1.6" fill="none" stroke-linejoin="round" stroke-linecap="round" />
<path d="M89.20,371.75 L89.68,371.75 L90.17,371.75 L90.65,371.75 L91.14,371.75 L91.62,371.75 L92.11,371.75 L92.59,371.75 L93.08,371.75 L93.56,371.75 L94.05,371.75 L94.53,371.75 L95.02,371.75 L95.50,371.75 L95.99,371.75 L96.47,371.75 L96.96,371.75 L97.44,371.75 L97.93,371.75 L98.41,371.74 L98.90,371.74 L99.38,371.74 L99.87,371.74 L100.35,371.74 L100.84,371.74 L101.32,371.74 L101.80,371.74 L102.29,371.74 L102.77,371.74 L103.26,371.74 L103.74,371.74 L104.23,371.74 L104.71,371.74 L105.20,371.74 L105.68,371.74 L106.17,371.74 L106.65,371.74 L107.14,371.74 L107.62,371.74 L108.11,371.74 L108.59,371.74 L109.08,371.74 L109.56,371.74 L110.05,371.74 L110.53,371.74 L111.02,371.74 L111.50,371.73 L111.99,371.73 L112.47,371.73 L112.96,371.73 L113.44,371.73 L113.92,371.73 L114.41,371.73 L114.89,371.73 L115.38,371.73 L115.86,371.73 L116.35,371.73 L116.83,371.73 L117.32,371.73 L117.80,371.73 L118.29,371.73 L118.77,371.73 L119.26,371.73 L119.74,371.73 L120.23,371.73 L120.71,371.73 L121.20,371.73 L121.68,371.72 L122.17,371.72 L122.65,371.72 L123.14,371.72 L123.62,371.72 L124.11,371.72 L124.59,371.72 L125.08,371.72 L125.56,371.72 L126.04,371.72 L126.53,371.72 L127.01,371.72 L127.50,371.72 L127.98,371.72 L128.47,371.72 L128.95,371.72 L129.44,371.72 L129.92,371.71 L130.41,371.71 L130.89,371.71 L131.38,371.71 L131.86,371.71 L132.35,371.71 L132.83,371.71 L133.32,371.71 L133.80,371.71 L134.29,371.71 L134.77,371.71 L135.26,371.71 L135.74,371.71 L136.23,371.71 L136.71,371.70 L137.20,371.70 L137.68,371.70 L138.16,371.70 L138.65,371.70 L139.13,371.70 L139.62,371.70 L140.10,371.70 L140.59,371.70 L141.07,371.70 L141.56,371.70 L142.04,371.70 L142.53,371.70 L143.01,371.69 L143.50,371.69 L143.98,371.69 L144.47,371.69 L144.95,371.69 L145.44,371.69 L145.92,371.69 L146.41,371.69 L146.89,371.69 L147.38,371.69 L147.86,371.68 L148.35,371.68 L148.83,371.68 L149.32,371.68 L149.80,371.68 L150.28,371.68 L150.77,371.68 L151.25,371.68 L151.74,371.68 L152.22,371.68 L152.71,371.67 L153.19,371.67 L153.68,371.67 L154.16,371.67 L154.65,371.67 L155.13,371.67 L155.62,371.67 L156.10,371.67 L156.59,371.66 L157.07,371.66 L157.56,371.66 L158.04,371.66 L158.53,371.66 L159.01,371.66 L159.50,371.66 L159.98,371.66 L160.47,371.65 L160.95,371.65 L161.44,371.65 L161.92,371.65 L162.40,371.65 L162.89,371.65 L163.37,371.64 L163.86,371.64 L164.34,371.64 L164.83,371.64 L165.31,371.64 L165.80,371.64 L166.28,371.63 L166.77,371.63 L167.25,371.63 L167.74,371.63 L168.22,371.63 L168.71,371.63 L169.19,371.62 L169.68,371.62 L170.16,371.62 L170.65,371.62 L171.13,371.62 L171.62,371.61 L172.10,371.61 L172.59,371.61 L173.07,371.61 L173.56,371.61 L174.04,371.60 L174.52,371.60 L175.01,371.60 L175.49,371.60 L175.98,371.59 L176.46,371.59 L176.95,371.59 L177.43,371.59 L177.92,371.58 L178.40,371.58 L178.89,371.58 L179.37,371.58 L179.86,371.57 L180.34,371.57 L180.83,371.57 L181.31,371.57 L181.80,371.56 L182.28,371.56 L182.77,371.56 L183.25,371.55 L183.74,371.55 L184.22,371.55 L184.71,371.54 L185.19,371.54 L185.68,371.54 L186.16,371.53 L186.64,371.53 L187.13,371.53 L187.61,371.52 L188.10,371.52 L188.58,371.51 L189.07,371.51 L189.55,371.51 L190.04,371.50 L190.52,371.50 L191.01,371.49 L191.49,371.49 L191.98,371.49 L192.46,371.48 L192.95,371.48 L193.43,371.47 L193.92,371.47 L194.40,371.46 L194.89,371.46 L195.37,371.45 L195.86,371.45 L196.34,371.44 L196.83,371.44 L197.31,371.43 L197.80,371.42 L198.28,371.42 L198.76,371.41 L199.25,371.41 L199.73,371.40 L200.22,371.39 L200.70,371.39 L201.19,371.38 L201.67,371.37 L202.16,371.37 L202.64,371.36 L203.13,371.35 L203.61,371.34 L204.10,371.34 L204.58,371.33 L205.07,371.32 L205.55,371.31 L206.04,371.30 L206.52,371.29 L207.01,371.28 L207.49,371.27 L207.98,371.26 L208.46,371.25 L208.95,371.24 L209.43,371.23 L209.92,371.22 L210.40,371.21 L210.88,371.20 L211.37,371.19 L211.85,371.18 L212.34,371.16 L212.82,371.15 L213.31,371.14 L213.79,371.12 L214.28,371.11 L214.76,371.09 L215.25,371.08 L215.73,371.06 L216.22,371.04 L216.70,371.02 L217.19,371.00 L217.67,370.98 L218.16,370.96 L218.64,370.94 L219.13,370.92 L219.61,370.89 L220.10,370.87 L220.58,370.84 L221.07,370.81 L221.55,370.78 L222.04,370.74 L222.52,370.71 L223.00,370.67 L223.49,370.63 L223.97,370.58 L224.46,370.53 L224.94,370.48 L225.43,370.42 L225.91,370.35 L226.40,370.28 L226.88,370.21 L227.37,370.13 L227.85,370.04 L228.34,369.94 L228.82,369.83 L229.31,369.71 L229.79,369.58 L230.28,369.44 L230.76,369.29 L231.25,369.12 L231.73,368.94 L232.22,368.74 L232.70,368.52 L233.19,368.29 L233.67,368.03 L234.16,367.76 L234.64,367.46 L235.12,367.14 L235.61,366.79 L236.09,366.42 L236.58,366.02 L237.06,365.59 L237.55,365.13 L238.03,364.64 L238.52,364.12 L239.00,363.57 L239.49,362.98 L239.97,362.37 L240.46,361.71 L240.94,361.03 L241.43,360.31 L241.91,359.55 L242.40,358.77 L242.88,357.95 L243.37,357.09 L243.85,356.21 L244.34,355.30 L244.82,354.37 L245.31,353.41 L245.79,352.42 L246.28,351.42 L246.76,350.40 L247.24,349.37 L247.73,348.33 L248.21,347.28 L248.70,346.24 L249.18,345.19 L249.67,344.16 L250.15,343.14 L250.64,342.14 L251.12,341.16 L251.61,340.21 L252.09,339.31 L252.58,338.44 L253.06,337.63 L253.55,336.87 L254.03,336.17 L254.52,335.54 L255.00,334.99 L255.49,334.51 L255.97,334.12 L256.46,333.81 L256.94,333.60 L257.43,333.47 L257.91,333.44 L258.40,333.50 L258.88,333.62 L259.36,333.82 L259.85,334.08 L260.33,334.42 L260.82,334.82 L261.30,335.28 L261.79,335.80 L262.27,336.38 L262.76,337.01 L263.24,337.68 L263.73,338.40 L264.21,339.15 L264.70,339.94 L265.18,340.75 L265.67,341.59 L266.15,342.45 L266.64,343.33 L267.12,344.22 L267.61,345.12 L268.09,346.03 L268.58,346.94 L269.06,347.84 L269.55,348.75 L270.03,349.65 L270.52,350.54 L271.00,351.41 L271.48,352.28 L271.97,353.13 L272.45,353.96 L272.94,354.78 L273.42,355.57 L273.91,356.35 L274.39,357.10 L274.88,357.83 L275.36,358.53 L275.85,359.21 L276.33,359.87 L276.82,360.50 L277.30,361.11 L277.79,361.69 L278.27,362.24 L278.76,362.77 L279.24,363.28 L279.73,363.76 L280.21,364.21 L280.70,364.65 L281.18,365.05 L281.67,365.44 L282.15,365.81 L282.64,366.15 L283.12,366.48 L283.60,366.78 L284.09,367.07 L284.57,367.33 L285.06,367.59 L285.54,367.82 L286.03,368.04 L286.51,368.24 L287.00,368.44 L287.48,368.61 L287.97,368.78 L288.45,368.93 L288.94,369.08 L289.42,369.21 L289.91,369.34 L290.39,369.45 L290.88,369.56 L291.36,369.66 L291.85,369.75 L292.33,369.84 L292.82,369.92 L293.30,369.99 L293.79,370.06 L294.27,370.12 L294.76,370.18 L295.24,370.24 L295.72,370.29 L296.21,370.34 L296.69,370.39 L297.18,370.43 L297.66,370.47 L298.15,370.51 L298.63,370.54 L299.12,370.58 L299.60,370.61 L300.09,370.64 L300.57,370.67 L301.06,370.70 L301.54,370.72 L302.03,370.75 L302.51,370.77 L303.00,370.79 L303.48,370.81 L303.97,370.84 L304.45,370.85 L304.94,370.87 L305.42,370.89 L305.91,370.91 L306.39,370.93 L306.88,370.94 L307.36,370.96 L307.84,370.98 L308.33,370.99 L308.81,371.01 L309.30,371.02 L309.78,371.03 L310.27,371.05 L310.75,371.06 L311.24,371.07 L311.72,371.09 L312.21,371.10 L312.69,371.11 L313.18,371.12 L313.66,371.13 L314.15,371.14 L314.63,371.15 L315.12,371.16 L315.60,371.17 L316.09,371.18 L316.57,371.19 L317.06,371.20 L317.54,371.21 L318.03,371.22 L318.51,371.23 L319.00,371.24 L319.48,371.25 L319.96,371.25 L320.45,371.26 L320.93,371.27 L321.42,371.28 L321.90,371.29 L322.39,371.29 L322.87,371.30 L323.36,371.31 L323.84,371.31 L324.33,371.32 L324.81,371.33 L325.30,371.33 L325.78,371.34 L326.27,371.35 L326.75,371.35 L327.24,371.36 L327.72,371.36 L328.21,371.37 L328.69,371.38 L329.18,371.38 L329.66,371.39 L330.15,371.39 L330.63,371.40 L331.12,371.40 L331.60,371.41" stroke="#9a28f0" stroke-width="1.6" fill="none" stroke-linejoin="round" stroke-linecap="round" />
<path d="M89.20,371.69 L89.68,371.69 L90.17,371.69 L90.65,371.69 L91.14,371.68 L91.62,371.68 L92.11,371.68 L92.59,371.68 L93.08,371.68 L93.56,371.68 L94.05,371.68 L94.53,371.68 L95.02,371.68 L95.50,371.68 L95.99,371.68 L96.47,371.68 L96.96,371.68 L97.44,371.68 L97.93,371.67 L98.41,371.67 L98.90,371.67 L99.38,371.67 L99.87,371.67 L100.35,371.67 L100.84,371.67 L101.32,371.67 L101.80,371.67 L102.29,371.67 L102.77,371.67 L103.26,371.67 L103.74,371.66 L104.23,371.66 L104.71,371.66 L105.20,371.66 L105.68,371.66 L106.17,371.66 L106.65,371.66 L107.14,371.66 L107.62,371.66 L108.11,371.66 L108.59,371.66 L109.08,371.66 L109.56,371.65 L110.05,371.65 L110.53,371.65 L111.02,371.65 L111.50,371.65 L111.99,371.65 L112.47,371.65 L112.96,371.65 L113.44,371.65 L113.92,371.65 L114.41,371.64 L114.89,371.64 L115.38,371.64 L115.86,371.64 L116.35,371.64 L116.83,371.64 L117.32,371.64 L117.80,371.64 L118.29,371.64 L118.77,371.63 L119.26,371.63 L119.74,371.63 L120.23,371.63 L120.71,371.63 L121.20,371.63 L121.68,371.63 L122.17,371.63 L122.65,371.62 L123.14,371.62 L123.62,371.62 L124.11,371.62 L124.59,371.62 L125.08,371.62 L125.56,371.62 L126.04,371.62 L126.53,371.61 L127.01,371.61 L127.50,371.61 L127.98,371.61 L128.47,371.61 L128.95,371.61 L129.44,371.61 L129.92,371.60 L130.41,371.60 L130.89,371.60 L131.38,371.60 L131.86,371.60 L132.35,371.60 L132.83,371.59 L133.32,371.59 L133.80,371.59 L134.29,371.59 L134.77,371.59 L135.26,371.59 L135.74,371.59 L136.23,371.58 L136.71,371.58 L137.20,371.58 L137.68,371.58 L138.16,371.58 L138.65,371.57 L139.13,371.57 L139.62,371.57 L140.10,371.57 L140.59,371.57 L141.07,371.57 L141.56,371.56 L142.04,371.56 L142.53,371.56 L143.01,371.56 L143.50,371.56 L143.98,371.55 L144.47,371.55 L144.95,371.55 L145.44,371.55 L145.92,371.54 L146.41,371.54 L146.89,371.54 L147.38,371.54 L147.86,371.54 L148.35,371.53 L148.83,371.53 L149.32,371.53 L149.80,371.53 L150.28,371.52 L150.77,371.52 L151.25,371.52 L151.74,371.52 L152.22,371.51 L152.71,371.51 L153.19,371.51 L153.68,371.51 L154.16,371.50 L154.65,371.50 L155.13,371.50 L155.62,371.49 L156.10,371.49 L156.59,371.49 L157.07,371.49 L157.56,371.48 L158.04,371.48 L158.53,371.48 L159.01,371.47 L159.50,371.47 L159.98,371.47 L160.47,371.46 L160.95,371.46 L161.44,371.46 L161.92,371.45 L162.40,371.45 L162.89,371.45 L163.37,371.44 L163.86,371.44 L164.34,371.44 L164.83,371.43 L165.31,371.43 L165.80,371.42 L166.28,371.42 L166.77,371.42 L167.25,371.41 L167.74,371.41 L168.22,371.40 L168.71,371.40 L169.19,371.39 L169.68,371.39 L170.16,371.39 L170.65,371.38 L171.13,371.38 L171.62,371.37 L172.10,371.37 L172.59,371.36 L173.07,371.36 L173.56,371.35 L174.04,371.35 L174.52,371.34 L175.01,371.34 L175.49,371.33 L175.98,371.33 L176.46,371.32 L176.95,371.31 L177.43,371.31 L177.92,371.30 L178.40,371.30 L178.89,371.29 L179.37,371.28 L179.86,371.28 L180.34,371.27 L180.83,371.27 L181.31,371.26 L181.80,371.25 L182.28,371.24 L182.77,371.24 L183.25,371.23 L183.74,371.22 L184.22,371.22 L184.71,371.21 L185.19,371.20 L185.68,371.19 L186.16,371.18 L186.64,371.18 L187.13,371.17 L187.61,371.16 L188.10,371.15 L188.58,371.14 L189.07,371.13 L189.55,371.12 L190.04,371.11 L190.52,371.10 L191.01,371.09 L191.49,371.08 L191.98,371.07 L192.46,371.06 L192.95,371.05 L193.43,371.04 L193.92,371.03 L194.40,371.02 L194.89,371.01 L195.37,371.00 L195.86,370.98 L196.34,370.97 L196.83,370.96 L197.31,370.94 L197.80,370.93 L198.28,370.92 L198.76,370.90 L199.25,370.89 L199.73,370.87 L200.22,370.86 L200.70,370.84 L201.19,370.83 L201.67,370.81 L202.16,370.79 L202.64,370.78 L203.13,370.76 L203.61,370.74 L204.10,370.72 L204.58,370.70 L205.07,370.69 L205.55,370.67 L206.04,370.64 L206.52,370.62 L207.01,370.60 L207.49,370.58 L207.98,370.56 L208.46,370.53 L208.95,370.51 L209.43,370.48 L209.92,370.46 L210.40,370.43 L210.88,370.41 L211.37,370.38 L211.85,370.35 L212.34,370.32 L212.82,370.29 L213.31,370.25 L213.79,370.22 L214.28,370.19 L214.76,370.15 L215.25,370.11 L215.73,370.07 L216.22,370.03 L216.70,369.99 L217.19,369.94 L217.67,369.90 L218.16,369.84 L218.64,369.79 L219.13,369.74 L219.61,369.68 L220.10,369.61 L220.58,369.55 L221.07,369.47 L221.55,369.40 L222.04,369.31 L222.52,369.22 L223.00,369.13 L223.49,369.02 L223.97,368.91 L224.46,368.79 L224.94,368.65 L225.43,368.51 L225.91,368.35 L226.40,368.18 L226.88,367.99 L227.37,367.78 L227.85,367.56 L228.34,367.31 L228.82,367.04 L229.31,366.75 L229.79,366.43 L230.28,366.08 L230.76,365.69 L231.25,365.28 L231.73,364.82 L232.22,364.33 L232.70,363.80 L233.19,363.22 L233.67,362.59 L234.16,361.91 L234.64,361.18 L235.12,360.39 L235.61,359.54 L236.09,358.63 L236.58,357.65 L237.06,356.61 L237.55,355.50 L238.03,354.31 L238.52,353.05 L239.00,351.72 L239.49,350.31 L239.97,348.83 L240.46,347.26 L240.94,345.62 L241.43,343.90 L241.91,342.11 L242.40,340.25 L242.88,338.31 L243.37,336.30 L243.85,334.23 L244.34,332.10 L244.82,329.91 L245.31,327.67 L245.79,325.39 L246.28,323.06 L246.76,320.71 L247.24,318.34 L247.73,315.96 L248.21,313.58 L248.70,311.20 L249.18,308.84 L249.67,306.52 L250.15,304.24 L250.64,302.02 L251.12,299.86 L251.61,297.79 L252.09,295.83 L252.58,293.97 L253.06,292.24 L253.55,290.65 L254.03,289.22 L254.52,287.95 L255.00,286.87 L255.49,285.97 L255.97,285.28 L256.46,284.79 L256.94,284.51 L257.43,284.44 L257.91,284.56 L258.40,284.84 L258.88,285.29 L259.36,285.90 L259.85,286.66 L260.33,287.58 L260.82,288.63 L261.30,289.82 L261.79,291.13 L262.27,292.56 L262.76,294.09 L263.24,295.72 L263.73,297.44 L264.21,299.23 L264.70,301.09 L265.18,303.00 L265.67,304.96 L266.15,306.96 L266.64,308.99 L267.12,311.04 L267.61,313.10 L268.09,315.17 L268.58,317.24 L269.06,319.30 L269.55,321.34 L270.03,323.37 L270.52,325.37 L271.00,327.34 L271.48,329.28 L271.97,331.18 L272.45,333.03 L272.94,334.84 L273.42,336.61 L273.91,338.32 L274.39,339.98 L274.88,341.58 L275.36,343.14 L275.85,344.63 L276.33,346.07 L276.82,347.44 L277.30,348.77 L277.79,350.03 L278.27,351.24 L278.76,352.39 L279.24,353.48 L279.73,354.52 L280.21,355.50 L280.70,356.44 L281.18,357.32 L281.67,358.15 L282.15,358.94 L282.64,359.67 L283.12,360.37 L283.60,361.02 L284.09,361.63 L284.57,362.20 L285.06,362.74 L285.54,363.24 L286.03,363.70 L286.51,364.14 L287.00,364.54 L287.48,364.92 L287.97,365.27 L288.45,365.60 L288.94,365.90 L289.42,366.19 L289.91,366.45 L290.39,366.69 L290.88,366.92 L291.36,367.13 L291.85,367.33 L292.33,367.51 L292.82,367.68 L293.30,367.83 L293.79,367.98 L294.27,368.12 L294.76,368.25 L295.24,368.36 L295.72,368.48 L296.21,368.58 L296.69,368.68 L297.18,368.77 L297.66,368.86 L298.15,368.94 L298.63,369.02 L299.12,369.09 L299.60,369.16 L300.09,369.22 L300.57,369.28 L301.06,369.34 L301.54,369.40 L302.03,369.45 L302.51,369.51 L303.00,369.55 L303.48,369.60 L303.97,369.65 L304.45,369.69 L304.94,369.73 L305.42,369.77 L305.91,369.81 L306.39,369.85 L306.88,369.89 L307.36,369.92 L307.84,369.96 L308.33,369.99 L308.81,370.02 L309.30,370.05 L309.78,370.09 L310.27,370.12 L310.75,370.14 L311.24,370.17 L311.72,370.20 L312.21,370.23 L312.69,370.25 L313.18,370.28 L313.66,370.30 L314.15,370.33 L314.63,370.35 L315.12,370.37 L315.60,370.40 L316.09,370.42 L316.57,370.44 L317.06,370.46 L317.54,370.48 L318.03,370.50 L318.51,370.52 L319.00,370.54 L319.48,370.56 L319.96,370.58 L320.45,370.59 L320.93,370.61 L321.42,370.63 L321.90,370.64 L322.39,370.66 L322.87,370.68 L323.36,370.69 L323.84,370.71 L324.33,370.72 L324.81,370.74 L325.30,370.75 L325.78,370.77 L326.27,370.78 L326.75,370.79 L327.24,370.81 L327.72,370.82 L328.21,370.83 L328.69,370.85 L329.18,370.86 L329.66,370.87 L330.15,370.88 L330.63,370.89 L331.12,370.91 L331.60,370.92" stroke="#1c1ce8" stroke-width="1.6" fill="none" stroke-linejoin="round" stroke-linecap="round" />
<path d="M89.20,371.62 L89.68,371.62 L90.17,371.62 L90.65,371.62 L91.14,371.62 L91.62,371.62 L92.11,371.62 L92.59,371.62 L93.08,371.61 L93.56,371.61 L94.05,371.61 L94.53,371.61 L95.02,371.61 L95.50,371.61 L95.99,371.61 L96.47,371.61 L96.96,371.61 L97.44,371.60 L97.93,371.60 L98.41,371.60 L98.90,371.60 L99.38,371.60 L99.87,371.60 L100.35,371.60 L100.84,371.60 L101.32,371.59 L101.80,371.59 L102.29,371.59 L102.77,371.59 L103.26,371.59 L103.74,371.59 L104.23,371.59 L104.71,371.59 L105.20,371.58 L105.68,371.58 L106.17,371.58 L106.65,371.58 L107.14,371.58 L107.62,371.58 L108.11,371.58 L108.59,371.57 L109.08,371.57 L109.56,371.57 L110.05,371.57 L110.53,371.57 L111.02,371.57 L111.50,371.56 L111.99,371.56 L112.47,371.56 L112.96,371.56 L113.44,371.56 L113.92,371.56 L114.41,371.56 L114.89,371.55 L115.38,371.55 L115.86,371.55 L116.35,371.55 L116.83,371.55 L117.32,371.55 L117.80,371.54 L118.29,371.54 L118.77,371.54 L119.26,371.54 L119.74,371.54 L120.23,371.53 L120.71,371.53 L121.20,371.53 L121.68,371.53 L122.17,371.53 L122.65,371.52 L123.14,371.52 L123.62,371.52 L124.11,371.52 L124.59,371.52 L125.08,371.51 L125.56,371.51 L126.04,371.51 L126.53,371.51 L127.01,371.51 L127.50,371.50 L127.98,371.50 L128.47,371.50 L128.95,371.50 L129.44,371.49 L129.92,371.49 L130.41,371.49 L130.89,371.49 L131.38,371.49 L131.86,371.48 L132.35,371.48 L132.83,371.48 L133.32,371.48 L133.80,371.47 L134.29,371.47 L134.77,371.47 L135.26,371.47 L135.74,371.46 L136.23,371.46 L136.71,371.46 L137.20,371.45 L137.68,371.45 L138.16,371.45 L138.65,371.45 L139.13,371.44 L139.62,371.44 L140.10,371.44 L140.59,371.43 L141.07,371.43 L141.56,371.43 L142.04,371.43 L142.53,371.42 L143.01,371.42 L143.50,371.42 L143.98,371.41 L144.47,371.41 L144.95,371.41 L145.44,371.40 L145.92,371.40 L146.41,371.40 L146.89,371.39 L147.38,371.39 L147.86,371.38 L148.35,371.38 L148.83,371.38 L149.32,371.37 L149.80,371.37 L150.28,371.37 L150.77,371.36 L151.25,371.36 L151.74,371.35 L152.22,371.35 L152.71,371.35 L153.19,371.34 L153.68,371.34 L154.16,371.33 L154.65,371.33 L155.13,371.32 L155.62,371.32 L156.10,371.31 L156.59,371.31 L157.07,371.31 L157.56,371.30 L158.04,371.30 L158.53,371.29 L159.01,371.29 L159.50,371.28 L159.98,371.28 L160.47,371.27 L160.95,371.27 L161.44,371.26 L161.92,371.25 L162.40,371.25 L162.89,371.24 L163.37,371.24 L163.86,371.23 L164.34,371.23 L164.83,371.22 L165.31,371.21 L165.80,371.21 L166.28,371.20 L166.77,371.20 L167.25,371.19 L167.74,371.18 L168.22,371.18 L168.71,371.17 L169.19,371.16 L169.68,371.16 L170.16,371.15 L170.65,371.14 L171.13,371.13 L171.62,371.13 L172.10,371.12 L172.59,371.11 L173.07,371.10 L173.56,371.10 L174.04,371.09 L174.52,371.08 L175.01,371.07 L175.49,371.06 L175.98,371.05 L176.46,371.04 L176.95,371.04 L177.43,371.03 L177.92,371.02 L178.40,371.01 L178.89,371.00 L179.37,370.99 L179.86,370.98 L180.34,370.97 L180.83,370.96 L181.31,370.95 L181.80,370.94 L182.28,370.93 L182.77,370.91 L183.25,370.90 L183.74,370.89 L184.22,370.88 L184.71,370.87 L185.19,370.86 L185.68,370.84 L186.16,370.83 L186.64,370.82 L187.13,370.80 L187.61,370.79 L188.10,370.78 L188.58,370.76 L189.07,370.75 L189.55,370.73 L190.04,370.72 L190.52,370.70 L191.01,370.69 L191.49,370.67 L191.98,370.66 L192.46,370.64 L192.95,370.62 L193.43,370.60 L193.92,370.59 L194.40,370.57 L194.89,370.55 L195.37,370.53 L195.86,370.51 L196.34,370.49 L196.83,370.47 L197.31,370.45 L197.80,370.43 L198.28,370.41 L198.76,370.39 L199.25,370.36 L199.73,370.34 L200.22,370.31 L200.70,370.29 L201.19,370.27 L201.67,370.24 L202.16,370.21 L202.64,370.19 L203.13,370.16 L203.61,370.13 L204.10,370.10 L204.58,370.07 L205.07,370.04 L205.55,370.01 L206.04,369.98 L206.52,369.94 L207.01,369.91 L207.49,369.87 L207.98,369.84 L208.46,369.80 L208.95,369.76 L209.43,369.72 L209.92,369.68 L210.40,369.64 L210.88,369.59 L211.37,369.55 L211.85,369.50 L212.34,369.45 L212.82,369.40 L213.31,369.35 L213.79,369.30 L214.28,369.24 L214.76,369.19 L215.25,369.13 L215.73,369.06 L216.22,369.00 L216.70,368.93 L217.19,368.85 L217.67,368.78 L218.16,368.70 L218.64,368.61 L219.13,368.52 L219.61,368.42 L220.10,368.32 L220.58,368.21 L221.07,368.09 L221.55,367.97 L222.04,367.83 L222.52,367.68 L223.00,367.53 L223.49,367.35 L223.97,367.17 L224.46,366.97 L224.94,366.75 L225.43,366.51 L225.91,366.25 L226.40,365.96 L226.88,365.65 L227.37,365.31 L227.85,364.94 L228.34,364.54 L228.82,364.09 L229.31,363.61 L229.79,363.08 L230.28,362.50 L230.76,361.88 L231.25,361.19 L231.73,360.45 L232.22,359.64 L232.70,358.76 L233.19,357.81 L233.67,356.78 L234.16,355.67 L234.64,354.47 L235.12,353.19 L235.61,351.80 L236.09,350.32 L236.58,348.73 L237.06,347.03 L237.55,345.23 L238.03,343.31 L238.52,341.27 L239.00,339.12 L239.49,336.85 L239.97,334.45 L240.46,331.94 L240.94,329.30 L241.43,326.55 L241.91,323.68 L242.40,320.69 L242.88,317.60 L243.37,314.40 L243.85,311.11 L244.34,307.72 L244.82,304.25 L245.31,300.71 L245.79,297.11 L246.28,293.45 L246.76,289.76 L247.24,286.04 L247.73,282.31 L248.21,278.59 L248.70,274.90 L249.18,271.24 L249.67,267.65 L250.15,264.14 L250.64,260.73 L251.12,257.44 L251.61,254.30 L252.09,251.33 L252.58,248.54 L253.06,245.97 L253.55,243.63 L254.03,241.55 L254.52,239.74 L255.00,238.22 L255.49,237.01 L255.97,236.11 L256.46,235.54 L256.94,235.31 L257.43,235.38 L257.91,235.72 L258.40,236.32 L258.88,237.17 L259.36,238.27 L259.85,239.60 L260.33,241.16 L260.82,242.94 L261.30,244.91 L261.79,247.07 L262.27,249.40 L262.76,251.89 L263.24,254.52 L263.73,257.27 L264.21,260.14 L264.70,263.09 L265.18,266.13 L265.67,269.23 L266.15,272.39 L266.64,275.58 L267.12,278.79 L267.61,282.02 L268.09,285.26 L268.58,288.48 L269.06,291.69 L269.55,294.87 L270.03,298.01 L270.52,301.11 L271.00,304.16 L271.48,307.15 L271.97,310.07 L272.45,312.93 L272.94,315.72 L273.42,318.42 L273.91,321.05 L274.39,323.59 L274.88,326.05 L275.36,328.42 L275.85,330.70 L276.33,332.89 L276.82,334.99 L277.30,337.01 L277.79,338.93 L278.27,340.76 L278.76,342.50 L279.24,344.16 L279.73,345.73 L280.21,347.22 L280.70,348.63 L281.18,349.96 L281.67,351.22 L282.15,352.40 L282.64,353.51 L283.12,354.55 L283.60,355.53 L284.09,356.45 L284.57,357.31 L285.06,358.11 L285.54,358.86 L286.03,359.56 L286.51,360.21 L287.00,360.82 L287.48,361.39 L287.97,361.91 L288.45,362.40 L288.94,362.86 L289.42,363.28 L289.91,363.67 L290.39,364.04 L290.88,364.37 L291.36,364.69 L291.85,364.98 L292.33,365.25 L292.82,365.51 L293.30,365.74 L293.79,365.96 L294.27,366.17 L294.76,366.36 L295.24,366.54 L295.72,366.71 L296.21,366.86 L296.69,367.01 L297.18,367.15 L297.66,367.28 L298.15,367.40 L298.63,367.52 L299.12,367.63 L299.60,367.73 L300.09,367.83 L300.57,367.93 L301.06,368.02 L301.54,368.10 L302.03,368.18 L302.51,368.26 L303.00,368.34 L303.48,368.41 L303.97,368.48 L304.45,368.55 L304.94,368.61 L305.42,368.67 L305.91,368.73 L306.39,368.79 L306.88,368.85 L307.36,368.90 L307.84,368.95 L308.33,369.00 L308.81,369.05 L309.30,369.10 L309.78,369.15 L310.27,369.19 L310.75,369.24 L311.24,369.28 L311.72,369.32 L312.21,369.37 L312.69,369.41 L313.18,369.44 L313.66,369.48 L314.15,369.52 L314.63,369.56 L315.12,369.59 L315.60,369.63 L316.09,369.66 L316.57,369.69 L317.06,369.73 L317.54,369.76 L318.03,369.79 L318.51,369.82 L319.00,369.85 L319.48,369.88 L319.96,369.90 L320.45,369.93 L320.93,369.96 L321.42,369.98 L321.90,370.01 L322.39,370.04 L322.87,370.06 L323.36,370.09 L323.84,370.11 L324.33,370.13 L324.81,370.15 L325.30,370.18 L325.78,370.20 L326.27,370.22 L326.75,370.24 L327.24,370.26 L327.72,370.28 L328.21,370.30 L328.69,370.32 L329.18,370.34 L329.66,370.36 L330.15,370.38 L330.63,370.40 L331.12,370.41 L331.60,370.43" stroke="#ec1c1c" stroke-width="1.6" fill="none" stroke-linejoin="round" stroke-linecap="round" />
<path d="M331.6,221.5 L331.6,372.6" stroke="#ec1c1c" stroke-width="1.3"/>
<path d="M89.2,372.0 L89.2,375.0 M113.4,372.0 L113.4,373.8 M137.7,372.0 L137.7,375.0 M161.9,372.0 L161.9,373.8 M186.2,372.0 L186.2,375.0 M210.4,372.0 L210.4,373.8 M234.6,372.0 L234.6,375.0 M258.9,372.0 L258.9,373.8 M283.1,372.0 L283.1,375.0 M307.4,372.0 L307.4,373.8 M331.6,372.0 L331.6,375.0 M89.2,371.8 L86.2,371.8 M89.2,358.2 L87.4,358.2 M89.2,344.5 L86.2,344.5 M89.2,330.9 L87.4,330.9 M89.2,317.2 L86.2,317.2 M89.2,303.6 L87.4,303.6 M89.2,289.9 L86.2,289.9 M89.2,276.2 L87.4,276.2 M89.2,262.6 L86.2,262.6 M89.2,248.9 L87.4,248.9 M89.2,235.3 L86.2,235.3 M89.2,221.7 L87.4,221.7" stroke="#111" stroke-width="1.1"/>
<path d="M331.6,371.8 L334.6,371.8 M331.6,358.2 L333.40000000000003,358.2 M331.6,344.5 L334.6,344.5 M331.6,330.9 L333.40000000000003,330.9 M331.6,317.2 L334.6,317.2 M331.6,303.6 L333.40000000000003,303.6 M331.6,289.9 L334.6,289.9 M331.6,276.2 L333.40000000000003,276.2 M331.6,262.6 L334.6,262.6 M331.6,248.9 L333.40000000000003,248.9 M331.6,235.3 L334.6,235.3 M331.6,221.7 L333.40000000000003,221.7" stroke="#ec1c1c" stroke-width="1.1"/>
<text transform="translate(76.44,388.80) scale(1,1.06)" font-size="15.30" fill="#000" >350</text>
<text transform="translate(63.41,377.26) scale(1,1.06)" font-size="15.30" fill="#000">0.0</text>
<text x="334.69" y="376.94" font-size="15.3" fill="#ec1c1c">0.0</text>
<text transform="translate(125.04,388.80) scale(1,1.06)" font-size="15.30" fill="#000" >400</text>
<text transform="translate(63.60,349.96) scale(1,1.06)" font-size="15.30" fill="#000">0.2</text>
<text x="334.69" y="349.64" font-size="15.3" fill="#ec1c1c">0.2</text>
<text transform="translate(173.52,388.80) scale(1,1.06)" font-size="15.30" fill="#000" >450</text>
<text transform="translate(63.25,322.66) scale(1,1.06)" font-size="15.30" fill="#000">0.4</text>
<text x="334.69" y="322.34" font-size="15.3" fill="#ec1c1c">0.4</text>
<text transform="translate(221.86,388.80) scale(1,1.06)" font-size="15.30" fill="#000" >500</text>
<text transform="translate(63.48,295.36) scale(1,1.06)" font-size="15.30" fill="#000">0.6</text>
<text x="334.69" y="295.04" font-size="15.3" fill="#ec1c1c">0.6</text>
<text transform="translate(270.34,388.80) scale(1,1.06)" font-size="15.30" fill="#000" >550</text>
<text transform="translate(63.48,268.06) scale(1,1.06)" font-size="15.30" fill="#000">0.8</text>
<text x="334.69" y="267.74" font-size="15.3" fill="#ec1c1c">0.8</text>
<text transform="translate(318.75,388.80) scale(1,1.06)" font-size="15.30" fill="#000" >600</text>
<text transform="translate(63.41,240.76) scale(1,1.06)" font-size="15.30" fill="#000">1.0</text>
<text x="334.15" y="240.44" font-size="15.3" fill="#ec1c1c">1.0</text>
<text x="146.01" y="406.10" font-size="17.19" fill="#000" >Wavelength (nm)</text>
<text transform="translate(58.19,366.21) rotate(-90)" font-size="17.09" fill="#000">Responsivity (a.u.)</text>
<text transform="translate(372.69,356.01) rotate(-90)" font-size="17.36" fill="#ec1c1c">Intensity (a.u.)</text>
<rect x="170.8" y="249.9" width="14.4" height="7.2" fill="#f8c4e8" stroke="#f014e6" stroke-width="1.5"/>
<rect x="170.8" y="249.9" width="14.4" height="7.2" fill="url(#hatch)"/>
<path d="M170.1,271.3 L185.9,271.3" stroke="#f7a24a" stroke-width="1.6"/>
<path d="M170.1,289.3 L185.9,289.3" stroke="#787878" stroke-width="1.6"/>
<text x="189.52" y="255.80" font-size="14.41" fill="#000" >0 V</text>
<text x="189.44" y="273.40" font-size="14.73" fill="#000" >-1 V</text>
<text x="189.44" y="291.50" font-size="14.73" fill="#000" >-2 V</text>
<path d="M271,241.9 L283.7,241.9" stroke="#111111" stroke-width="1.6"/>
<text x="287.42" y="245.80" font-size="14.48" fill="#000" >5 mA</text>
<path d="M271,260.2 L283.7,260.2" stroke="#9a28f0" stroke-width="1.6"/>
<text x="286.86" y="264.00" font-size="15.15" fill="#000" >10 mA</text>
<path d="M271,278.6 L283.7,278.6" stroke="#1c1ce8" stroke-width="1.6"/>
<text x="287.25" y="281.50" font-size="15.01" fill="#000" >20 mA</text>
<path d="M271,296.9 L283.7,296.9" stroke="#ec1c1c" stroke-width="1.6"/>
<text x="287.44" y="299.40" font-size="14.95" fill="#000" >30 mA</text>
<text x="112.96" y="334.80" font-size="15.32" fill="#000" >Absorption</text>
<text x="117.17" y="353.30" font-size="15.47" fill="#000" >spectrum</text>
<text x="226.27" y="232.50" font-size="14.45" fill="#000" >45 nm</text>
<path d="M215.2,229.8 q1.7,-2.4 3.4,-0.6 t3.4,-0.6" fill="none" stroke="#222" stroke-width="1"/>
<path d="M195.1,232.0 L218.0,232.0 M212.5,229.0 L218.0,232.0 L212.5,235.0" stroke="#1c1ce8" stroke-width="1.3" fill="none" stroke-linecap="round" stroke-linejoin="round"/>
<path d="M291.2,232.0 L267.3,232.0 M272.8,229.0 L267.3,232.0 L272.8,235.0" stroke="#1c1ce8" stroke-width="1.3" fill="none" stroke-linecap="round" stroke-linejoin="round"/>
<text x="425.75" y="233.40" font-size="20.00" fill="#000" >d</text>
<path d="M493.80,289.50 L497.80,289.49 L501.80,289.47 L505.80,289.46 L509.80,289.44 L513.80,289.43 L517.80,289.42 L521.80,289.40 L525.80,289.39 L529.80,289.38 L533.80,289.36 L537.80,289.35 L541.80,289.33 L545.80,289.32 L549.80,289.31 L553.80,289.29 L557.80,289.28 L561.80,289.27 L565.80,289.25 L569.80,289.24 L573.80,289.22 L577.80,289.21 L581.80,289.20 L585.80,289.18 L589.80,289.17 L593.80,289.15 L597.80,289.14 L601.80,289.13 L605.80,289.11 L609.80,289.10 L613.80,289.09 L617.80,289.07 L621.80,289.06 L625.80,289.04 L629.80,289.03 L633.80,289.02 L637.80,289.00 L641.80,288.99 L645.80,288.97 L649.80,288.96 L653.80,288.95 L657.80,288.93 L661.80,288.92 L665.80,288.91 L670.00,289.40 L672.30,290.70 L674.00,293.40 L675.20,297.90 L675.80,302.90" stroke="#404040" stroke-width="1.5" fill="none" stroke-linejoin="round" stroke-linecap="round" />
<path d="M493.80,290.50 L497.80,290.49 L501.80,290.47 L505.80,290.46 L509.80,290.44 L513.80,290.43 L517.80,290.42 L521.80,290.40 L525.80,290.39 L529.80,290.38 L533.80,290.36 L537.80,290.35 L541.80,290.33 L545.80,290.32 L549.80,290.31 L553.80,290.29 L557.80,290.28 L561.80,290.27 L565.80,290.25 L569.80,290.24 L573.80,290.22 L577.80,290.21 L581.80,290.20 L585.80,290.18 L589.80,290.17 L593.80,290.15 L597.80,290.14 L601.80,290.13 L605.80,290.11 L609.80,290.10 L613.80,290.09 L617.80,290.07 L621.80,290.06 L625.80,290.04 L629.80,290.03 L633.80,290.02 L637.80,290.00 L641.80,289.99 L645.80,289.97 L649.80,289.96 L653.80,289.95 L657.80,289.93 L661.80,289.92 L665.80,289.91 L670.00,290.40 L672.30,291.70 L674.00,294.40 L675.20,298.90 L675.80,303.90" stroke="#e23c3c" stroke-width="1.5" fill="none" stroke-linejoin="round" stroke-linecap="round" />
<path d="M493.80,291.90 L497.80,291.89 L501.80,291.87 L505.80,291.86 L509.80,291.84 L513.80,291.83 L517.80,291.82 L521.80,291.80 L525.80,291.79 L529.80,291.78 L533.80,291.76 L537.80,291.75 L541.80,291.73 L545.80,291.72 L549.80,291.71 L553.80,291.69 L557.80,291.68 L561.80,291.67 L565.80,291.65 L569.80,291.64 L573.80,291.62 L577.80,291.61 L581.80,291.60 L585.80,291.58 L589.80,291.57 L593.80,291.55 L597.80,291.54 L601.80,291.53 L605.80,291.51 L609.80,291.50 L613.80,291.49 L617.80,291.47 L621.80,291.46 L625.80,291.44 L629.80,291.43 L633.80,291.42 L637.80,291.40 L641.80,291.39 L645.80,291.37 L649.80,291.36 L653.80,291.35 L657.80,291.33 L661.80,291.32 L665.80,291.31 L670.00,291.80 L672.30,293.10 L674.00,295.80 L675.20,300.30 L675.80,305.30" stroke="#3a72dc" stroke-width="1.5" fill="none" stroke-linejoin="round" stroke-linecap="round" />
<path d="M493.80,293.10 L497.80,293.09 L501.80,293.07 L505.80,293.06 L509.80,293.04 L513.80,293.03 L517.80,293.02 L521.80,293.00 L525.80,292.99 L529.80,292.98 L533.80,292.96 L537.80,292.95 L541.80,292.93 L545.80,292.92 L549.80,292.91 L553.80,292.89 L557.80,292.88 L561.80,292.87 L565.80,292.85 L569.80,292.84 L573.80,292.82 L577.80,292.81 L581.80,292.80 L585.80,292.78 L589.80,292.77 L593.80,292.75 L597.80,292.74 L601.80,292.73 L605.80,292.71 L609.80,292.70 L613.80,292.69 L617.80,292.67 L621.80,292.66 L625.80,292.64 L629.80,292.63 L633.80,292.62 L637.80,292.60 L641.80,292.59 L645.80,292.57 L649.80,292.56 L653.80,292.55 L657.80,292.53 L661.80,292.52 L665.80,292.51 L670.00,293.00 L672.30,294.30 L674.00,297.00 L675.20,301.50 L675.80,306.50" stroke="#6ab8e0" stroke-width="1.5" fill="none" stroke-linejoin="round" stroke-linecap="round" />
<path d="M493.80,294.30 L497.80,294.29 L501.80,294.27 L505.80,294.26 L509.80,294.24 L513.80,294.23 L517.80,294.22 L521.80,294.20 L525.80,294.19 L529.80,294.18 L533.80,294.16 L537.80,294.15 L541.80,294.13 L545.80,294.12 L549.80,294.11 L553.80,294.09 L557.80,294.08 L561.80,294.07 L565.80,294.05 L569.80,294.04 L573.80,294.02 L577.80,294.01 L581.80,294.00 L585.80,293.98 L589.80,293.97 L593.80,293.95 L597.80,293.94 L601.80,293.93 L605.80,293.91 L609.80,293.90 L613.80,293.89 L617.80,293.87 L621.80,293.86 L625.80,293.84 L629.80,293.83 L633.80,293.82 L637.80,293.80 L641.80,293.79 L645.80,293.77 L649.80,293.76 L653.80,293.75 L657.80,293.73 L661.80,293.72 L665.80,293.71 L670.00,294.20 L672.30,295.50 L674.00,298.20 L675.20,302.70 L675.80,307.70" stroke="#2fa860" stroke-width="1.5" fill="none" stroke-linejoin="round" stroke-linecap="round" />
<path d="M493.80,296.10 L497.80,296.09 L501.80,296.07 L505.80,296.06 L509.80,296.04 L513.80,296.03 L517.80,296.02 L521.80,296.00 L525.80,295.99 L529.80,295.98 L533.80,295.96 L537.80,295.95 L541.80,295.93 L545.80,295.92 L549.80,295.91 L553.80,295.89 L557.80,295.88 L561.80,295.87 L565.80,295.85 L569.80,295.84 L573.80,295.82 L577.80,295.81 L581.80,295.80 L585.80,295.78 L589.80,295.77 L593.80,295.75 L597.80,295.74 L601.80,295.73 L605.80,295.71 L609.80,295.70 L613.80,295.69 L617.80,295.67 L621.80,295.66 L625.80,295.64 L629.80,295.63 L633.80,295.62 L637.80,295.60 L641.80,295.59 L645.80,295.57 L649.80,295.56 L653.80,295.55 L657.80,295.53 L661.80,295.52 L665.80,295.51 L670.00,296.00 L672.30,297.30 L674.00,300.00 L675.20,304.50 L675.80,309.50" stroke="#b070e0" stroke-width="1.5" fill="none" stroke-linejoin="round" stroke-linecap="round" />
<path d="M493.80,301.40 L497.80,301.39 L501.80,301.37 L505.80,301.36 L509.80,301.34 L513.80,301.33 L517.80,301.32 L521.80,301.30 L525.80,301.29 L529.80,301.27 L533.80,301.26 L537.80,301.24 L541.80,301.23 L545.80,301.22 L549.80,301.20 L553.80,301.19 L557.80,301.17 L561.80,301.16 L565.80,301.15 L569.80,301.13 L573.80,301.12 L577.80,301.10 L581.80,301.09 L585.80,301.08 L589.80,301.06 L593.80,301.05 L597.80,301.03 L601.80,301.02 L605.80,301.01 L609.80,300.99 L613.80,300.98 L617.80,300.96 L621.80,300.95 L625.80,300.93 L629.80,300.92 L633.80,300.91 L637.80,300.89 L641.80,300.88 L645.80,300.86 L649.80,300.85 L653.80,300.84 L657.80,300.82 L661.80,300.81 L667.00,301.20 L669.50,302.40 L671.20,304.80 L672.30,308.80 L672.80,315.50" stroke="#d9a020" stroke-width="1.5" fill="none" stroke-linejoin="round" stroke-linecap="round" />
<path d="M494.10,343.27 L494.23,346.02 L494.35,348.48 L494.48,349.99 L494.60,350.14 L494.73,348.90 L494.85,346.59 L494.98,343.83 L495.10,341.37 L495.23,339.86 L495.35,339.72 L495.48,340.98 L495.60,343.31 L495.73,346.09 L495.85,348.58 L495.98,350.10 L496.10,350.26 L496.23,349.00 L496.35,346.66 L496.48,343.88 L496.60,341.39 L496.73,339.86 L496.85,339.72 L496.98,340.99 L497.10,343.35 L497.23,346.16 L497.35,348.67 L497.48,350.21 L497.60,350.37 L497.73,349.10 L497.85,346.74 L497.98,343.92 L498.10,341.41 L498.23,339.87 L498.35,339.72 L498.48,341.01 L498.60,343.39 L498.73,346.23 L498.85,348.76 L498.98,350.32 L499.10,350.48 L499.23,349.20 L499.35,346.81 L499.48,343.97 L499.60,341.43 L499.73,339.87 L499.85,339.72 L499.98,341.02 L500.10,343.43 L500.23,346.29 L500.35,348.86 L500.48,350.43 L500.60,350.59 L500.73,349.29 L500.85,346.89 L500.98,344.01 L501.10,341.44 L501.23,339.87 L501.35,339.72 L501.48,341.04 L501.60,343.47 L501.73,346.36 L501.85,348.95 L501.98,350.54 L502.10,350.70 L502.23,349.39 L502.35,346.96 L502.48,344.06 L502.60,341.46 L502.73,339.88 L502.85,339.72 L502.98,341.05 L503.10,343.50 L503.23,346.43 L503.35,349.05 L503.48,350.65 L503.60,350.81 L503.73,349.49 L503.85,347.03 L503.98,344.10 L504.10,341.48 L504.23,339.88 L504.35,339.72 L504.48,341.06 L504.60,343.54 L504.73,346.50 L504.85,349.14 L504.98,350.76 L505.10,350.93 L505.23,349.59 L505.35,347.11 L505.48,344.15 L505.60,341.50 L505.73,339.88 L505.85,339.73 L505.98,341.08 L506.10,343.58 L506.23,346.57 L506.35,349.24 L506.48,350.87 L506.60,351.04 L506.73,349.69 L506.85,347.18 L506.98,344.19 L507.10,341.52 L507.23,339.88 L507.35,339.73 L507.48,341.09 L507.60,343.62 L507.73,346.64 L507.85,349.33 L507.98,350.98 L508.10,351.15 L508.23,349.79 L508.35,347.26 L508.48,344.24 L508.60,341.54 L508.73,339.89 L508.85,339.73 L508.98,341.11 L509.10,343.66 L509.23,346.70 L509.35,349.42 L509.48,351.09 L509.60,351.26 L509.73,349.88 L509.85,347.33 L509.98,344.28 L510.10,341.56 L510.23,339.89 L510.35,339.73 L510.48,341.12 L510.60,343.70 L510.73,346.77 L510.85,349.52 L510.98,351.20 L511.10,351.37 L511.23,349.98 L511.35,347.40 L511.48,344.33 L511.60,341.58 L511.73,339.89 L511.85,339.73 L511.98,341.14 L512.10,343.74 L512.23,346.84 L512.35,349.61 L512.48,351.31 L512.60,351.49 L512.73,350.08 L512.85,347.48 L512.98,344.37 L513.10,341.59 L513.23,339.90 L513.35,339.73 L513.48,341.15 L513.60,343.78 L513.73,346.91 L513.85,349.71 L513.98,351.42 L514.10,351.60 L514.23,350.18 L514.35,347.55 L514.48,344.42 L514.60,341.61 L514.73,339.90 L514.85,339.73 L514.98,341.17 L515.10,343.82 L515.23,346.98 L515.35,349.80 L515.48,351.53 L515.60,351.71 L515.73,350.28 L515.85,347.63 L515.98,344.46 L516.10,341.63 L516.23,339.90 L516.35,339.73 L516.48,341.18 L516.60,343.86 L516.73,347.05 L516.85,349.90 L516.98,351.64 L517.10,351.82 L517.23,350.38 L517.35,347.70 L517.48,344.50 L517.60,341.65 L517.73,339.90 L517.85,339.74 L517.98,341.20 L518.10,343.90 L518.23,347.11 L518.35,349.99 L518.48,351.76 L518.60,351.93 L518.73,350.48 L518.85,347.77 L518.98,344.55 L519.10,341.67 L519.23,339.91 L519.35,339.74 L519.48,341.21 L519.60,343.93 L519.73,347.18 L519.85,350.09 L519.98,351.87 L520.10,352.04 L520.23,350.57 L520.35,347.85 L520.48,344.59 L520.60,341.69 L520.73,339.91 L520.85,339.74 L520.98,341.22 L521.10,343.97 L521.23,347.25 L521.35,350.18 L521.48,351.98 L521.60,352.16 L521.73,350.67 L521.85,347.92 L521.98,344.64 L522.10,341.71 L522.23,339.91 L522.35,339.74 L522.48,341.24 L522.60,344.01 L522.73,347.32 L522.85,350.27 L522.98,352.09 L523.10,352.27 L523.23,350.77 L523.35,348.00 L523.48,344.68 L523.60,341.73 L523.73,339.91 L523.85,339.74 L523.98,341.25 L524.10,344.05 L524.23,347.39 L524.35,350.37 L524.48,352.20 L524.60,352.38 L524.73,350.87 L524.85,348.07 L524.98,344.73 L525.10,341.74 L525.23,339.92 L525.35,339.74 L525.48,341.27 L525.60,344.09 L525.73,347.46 L525.85,350.46 L525.98,352.31 L526.10,352.49 L526.23,350.97 L526.35,348.14 L526.48,344.77 L526.60,341.76 L526.73,339.92 L526.85,339.74 L526.98,341.28 L527.10,344.13 L527.23,347.52 L527.35,350.56 L527.48,352.42 L527.60,352.60 L527.73,351.07 L527.85,348.22 L527.98,344.82 L528.10,341.78 L528.23,339.92 L528.35,339.74 L528.48,341.30 L528.60,344.17 L528.73,347.59 L528.85,350.65 L528.98,352.53 L529.10,352.72 L529.23,351.17 L529.35,348.29 L529.48,344.86 L529.60,341.80 L529.73,339.93 L529.85,339.75 L529.98,341.31 L530.10,344.21 L530.23,347.66 L530.35,350.75 L530.48,352.64 L530.60,352.83 L530.73,351.26 L530.85,348.37 L530.98,344.91 L531.10,341.82 L531.23,339.93 L531.35,339.75 L531.48,341.33 L531.60,344.25 L531.73,347.73 L531.85,350.84 L531.98,352.75 L532.10,352.94 L532.23,351.36 L532.35,348.44 L532.48,344.95 L532.60,341.84 L532.73,339.93 L532.85,339.75 L532.98,341.34 L533.10,344.29 L533.23,347.80 L533.35,350.93 L533.48,352.86" stroke="#1414f0" stroke-width="1.1" fill="none" stroke-linejoin="round" stroke-linecap="round" />
<path d="M533.48,352.86 L534.50,339.80 L536.70,347.50 L538.50,339.80 L540.00,344.00 L541.50,339.80 L543.00,344.50 L544.50,339.80 L546.00,344.00 L547.50,339.80 L549.00,344.50 L550.50,339.80 L552.00,341.50 L554.20,358.50 L557.00,339.80 L559.80,357.70 L562.50,339.80 L565.20,354.80 L567.80,339.80 L570.30,355.00 L573.20,339.80 L576.10,350.00 L578.60,339.80 L581.20,352.00 L582.80,339.80 L584.40,355.50 L587.00,340.20 L589.50,372.20 L592.00,340.20 L594.60,352.60 L597.20,340.20 L599.70,372.20 L602.00,340.20 L604.10,356.30 L606.60,340.20 L609.20,362.80 L611.50,340.20 L613.90,360.00 L616.30,340.20 L618.70,360.00 L621.00,340.20 L623.10,359.20 L625.60,340.20 L628.20,353.40 L630.80,340.20 L633.30,352.60 L635.50,340.20 L637.70,360.00 L638.80,345.00 L639.90,356.00 L642.00,340.80 L644.20,356.30 L645.70,342.00 L647.20,356.00 L648.30,343.00 L649.30,355.00 L651.50,341.00 L653.50,345.00 L655.00,346.00 L655.90,354.00 L656.50,344.00 L657.40,340.20 L660.30,334.40 L663.20,330.00 L677.20,288.50" stroke="#1414f0" stroke-width="1.4" fill="none" stroke-linejoin="round" stroke-linecap="round" />
<rect x="493.8" y="221.8" width="183.40000000000003" height="150.39999999999998" fill="none" stroke="#111" stroke-width="1.3"/>
<path d="M493.8,372.4 L490.8,372.4 M493.8,359.9 L492.0,359.9 M493.8,347.3 L490.8,347.3 M493.8,334.8 L492.0,334.8 M493.8,322.2 L490.8,322.2 M493.8,309.7 L492.0,309.7 M493.8,297.1 L490.8,297.1 M493.8,284.6 L492.0,284.6 M493.8,272.0 L490.8,272.0 M493.8,259.5 L492.0,259.5 M493.8,246.9 L490.8,246.9 M493.8,234.4 L492.0,234.4 M493.8,221.8 L490.8,221.8 M493.8,372.2 L493.8,375.2 M516.7,372.2 L516.7,374.0 M539.6,372.2 L539.6,375.2 M562.6,372.2 L562.6,374.0 M585.5,372.2 L585.5,375.2 M608.4,372.2 L608.4,374.0 M631.4,372.2 L631.4,375.2 M654.3,372.2 L654.3,374.0 M677.2,372.2 L677.2,375.2" stroke="#111" stroke-width="1.1"/>
<text x="466.94" y="226.84" font-size="15.3">10</text>
<text x="483.65" y="220.84" font-size="10.8">7</text>
<text x="466.83" y="251.94" font-size="15.3">10</text>
<text x="483.54" y="245.94" font-size="10.8">5</text>
<text x="466.86" y="277.04" font-size="15.3">10</text>
<text x="483.56" y="271.04" font-size="10.8">3</text>
<text x="466.91" y="302.14" font-size="15.3">10</text>
<text x="483.62" y="296.14" font-size="10.8">1</text>
<text x="463.32" y="327.24" font-size="15.3">10</text>
<text x="480.03" y="321.24" font-size="10.8">-1</text>
<text x="463.26" y="352.34" font-size="15.3">10</text>
<text x="479.97" y="346.34" font-size="10.8">-3</text>
<text x="463.24" y="377.44" font-size="15.3">10</text>
<text x="479.95" y="371.44" font-size="10.8">-5</text>
<text x="484.46" y="388.6" font-size="15.3">-2</text>
<text x="530.10" y="388.6" font-size="15.3">-1</text>
<text transform="translate(581.24,388.60) scale(1,1.06)" font-size="15.30" fill="#000" >0</text>
<text transform="translate(626.89,388.60) scale(1,1.06)" font-size="15.30" fill="#000" >1</text>
<text transform="translate(672.95,388.60) scale(1,1.06)" font-size="15.30" fill="#000" >2</text>
<text x="539.41" y="403.40" font-size="17.11" fill="#000" >Voltage (V)</text>
<text transform="translate(460.70,373.27) rotate(-90)" font-size="17.79" fill="#000">Photocurrent (μA)</text>
<path d="M511.2,356.7 L511.2,286.5" stroke="#222" stroke-width="1.3"/><path d="M511.2,282.9 L508.9,287.7 L513.5,287.7 Z" fill="#000"/>
<text x="497.62" y="279.70" font-size="13.88" fill="#000" >I=90mA</text>
<text x="513.67" y="322.80" font-size="13.90" fill="#ec1c1c" >Step=15mA</text>
<text x="499.02" y="367.60" font-size="13.89" fill="#1414f0" >I=0mA</text>
<rect x="579.6" y="222.9" width="95.5" height="54.49999999999997" fill="#fff" stroke="#333" stroke-width="1"/>
<path d="M579.60,238.60 L581.99,238.55 L584.38,238.50 L586.76,238.46 L589.15,238.42 L591.54,238.38 L593.93,238.34 L596.31,238.31 L598.70,238.28 L601.09,238.25 L603.48,238.22 L605.86,238.20 L608.25,238.18 L610.64,238.16 L613.02,238.14 L615.41,238.13 L617.80,238.12 L620.19,238.11 L622.58,238.10 L624.96,238.10 L627.35,238.10 L629.74,238.10 L632.12,238.10 L634.51,238.11 L636.90,238.12 L639.29,238.13 L641.68,238.14 L644.06,238.16 L646.45,238.18 L648.84,238.20 L651.23,238.22 L653.61,238.25 L656.00,238.28 L658.39,238.31 L660.78,238.34 L663.16,238.38 L665.55,238.42 L667.94,238.46 L670.33,238.50 L672.71,238.55 L675.10,238.60" stroke="#888888" stroke-width="1.3" fill="none" stroke-linejoin="round" stroke-linecap="round" />
<path d="M579.60,246.00 L581.99,245.95 L584.38,245.91 L586.76,245.86 L589.15,245.82 L591.54,245.78 L593.93,245.75 L596.31,245.71 L598.70,245.68 L601.09,245.65 L603.48,245.62 L605.86,245.60 L608.25,245.58 L610.64,245.56 L613.02,245.54 L615.41,245.53 L617.80,245.52 L620.19,245.51 L622.58,245.50 L624.96,245.50 L627.35,245.50 L629.74,245.50 L632.12,245.50 L634.51,245.51 L636.90,245.52 L639.29,245.53 L641.68,245.54 L644.06,245.56 L646.45,245.58 L648.84,245.60 L651.23,245.62 L653.61,245.65 L656.00,245.68 L658.39,245.71 L660.78,245.75 L663.16,245.78 L665.55,245.82 L667.94,245.86 L670.33,245.91 L672.71,245.95 L675.10,246.00" stroke="#e23c3c" stroke-width="1.3" fill="none" stroke-linejoin="round" stroke-linecap="round" />
<path d="M579.60,253.30 L581.99,253.25 L584.38,253.21 L586.76,253.16 L589.15,253.12 L591.54,253.08 L593.93,253.05 L596.31,253.01 L598.70,252.98 L601.09,252.95 L603.48,252.93 L605.86,252.90 L608.25,252.88 L610.64,252.86 L613.02,252.84 L615.41,252.83 L617.80,252.82 L620.19,252.81 L622.58,252.81 L624.96,252.80 L627.35,252.80 L629.74,252.80 L632.12,252.81 L634.51,252.81 L636.90,252.82 L639.29,252.83 L641.68,252.84 L644.06,252.86 L646.45,252.88 L648.84,252.90 L651.23,252.93 L653.61,252.95 L656.00,252.98 L658.39,253.01 L660.78,253.05 L663.16,253.08 L665.55,253.12 L667.94,253.16 L670.33,253.21 L672.71,253.25 L675.10,253.30" stroke="#3a72dc" stroke-width="1.3" fill="none" stroke-linejoin="round" stroke-linecap="round" />
<path d="M579.60,259.80 L581.99,259.75 L584.38,259.70 L586.76,259.66 L589.15,259.62 L591.54,259.58 L593.93,259.55 L596.31,259.51 L598.70,259.48 L601.09,259.45 L603.48,259.43 L605.86,259.40 L608.25,259.38 L610.64,259.36 L613.02,259.35 L615.41,259.33 L617.80,259.32 L620.19,259.31 L622.58,259.31 L624.96,259.30 L627.35,259.30 L629.74,259.30 L632.12,259.31 L634.51,259.31 L636.90,259.32 L639.29,259.33 L641.68,259.35 L644.06,259.36 L646.45,259.38 L648.84,259.40 L651.23,259.43 L653.61,259.45 L656.00,259.48 L658.39,259.51 L660.78,259.55 L663.16,259.58 L665.55,259.62 L667.94,259.66 L670.33,259.70 L672.71,259.75 L675.10,259.80" stroke="#2fa860" stroke-width="1.3" fill="none" stroke-linejoin="round" stroke-linecap="round" />
<path d="M579.60,266.40 L581.99,266.35 L584.38,266.30 L586.76,266.26 L589.15,266.22 L591.54,266.18 L593.93,266.14 L596.31,266.11 L598.70,266.08 L601.09,266.05 L603.48,266.02 L605.86,266.00 L608.25,265.98 L610.64,265.96 L613.02,265.94 L615.41,265.93 L617.80,265.92 L620.19,265.91 L622.58,265.90 L624.96,265.90 L627.35,265.90 L629.74,265.90 L632.12,265.90 L634.51,265.91 L636.90,265.92 L639.29,265.93 L641.68,265.94 L644.06,265.96 L646.45,265.98 L648.84,266.00 L651.23,266.02 L653.61,266.05 L656.00,266.08 L658.39,266.11 L660.78,266.14 L663.16,266.18 L665.55,266.22 L667.94,266.26 L670.33,266.30 L672.71,266.35 L675.10,266.40" stroke="#b070e0" stroke-width="1.3" fill="none" stroke-linejoin="round" stroke-linecap="round" />
<path d="M579.60,272.40 L581.99,272.35 L584.38,272.30 L586.76,272.26 L589.15,272.22 L591.54,272.18 L593.93,272.14 L596.31,272.11 L598.70,272.08 L601.09,272.05 L603.48,272.02 L605.86,272.00 L608.25,271.98 L610.64,271.96 L613.02,271.94 L615.41,271.93 L617.80,271.92 L620.19,271.91 L622.58,271.90 L624.96,271.90 L627.35,271.90 L629.74,271.90 L632.12,271.90 L634.51,271.91 L636.90,271.92 L639.29,271.93 L641.68,271.94 L644.06,271.96 L646.45,271.98 L648.84,272.00 L651.23,272.02 L653.61,272.05 L656.00,272.08 L658.39,272.11 L660.78,272.14 L663.16,272.18 L665.55,272.22 L667.94,272.26 L670.33,272.30 L672.71,272.35 L675.10,272.40" stroke="#d9a020" stroke-width="1.3" fill="none" stroke-linejoin="round" stroke-linecap="round" />
<path d="M579.60,277.00 L581.99,276.95 L584.38,276.90 L586.76,276.86 L589.15,276.82 L591.54,276.78 L593.93,276.75 L596.31,276.71 L598.70,276.68 L601.09,276.65 L603.48,276.62 L605.86,276.60 L608.25,276.58 L610.64,276.56 L613.02,276.55 L615.41,276.53 L617.80,276.52 L620.19,276.51 L622.58,276.50 L624.96,276.50 L627.35,276.50 L629.74,276.50 L632.12,276.50 L634.51,276.51 L636.90,276.52 L639.29,276.53 L641.68,276.55 L644.06,276.56 L646.45,276.58 L648.84,276.60 L651.23,276.62 L653.61,276.65 L656.00,276.68 L658.39,276.71 L660.78,276.75 L663.16,276.78 L665.55,276.82 L667.94,276.86 L670.33,276.90 L672.71,276.95 L675.10,277.00" stroke="#207a8a" stroke-width="1.3" fill="none" stroke-linejoin="round" stroke-linecap="round" />
<path d="M627.4,234.4 L627.4,277.4" stroke="#e82020" stroke-width="1" stroke-dasharray="2.5 1.8"/>
<rect x="591.2" y="223.3" width="74.7" height="11.1" fill="#00f0f0"/>
<text x="591.35" y="233.5" font-size="14.3" textLength="73.7" lengthAdjust="spacingAndGlyphs">I<tspan font-size="8.5">PD</tspan>=39.4 μA</text>
<text transform="translate(561.93,242.35) scale(1,1.06)" font-size="13.40" fill="#000">40</text>
<text transform="translate(561.93,261.95) scale(1,1.06)" font-size="13.40" fill="#000">20</text>
<text transform="translate(569.37,281.55) scale(1,1.06)" font-size="13.40" fill="#000">0</text>
<text x="571.23" y="287.6" font-size="13.4">-1</text>
<text transform="translate(623.61,287.60) scale(1,1.06)" font-size="13.40" fill="#000" >0</text>
<text transform="translate(671.20,287.60) scale(1,1.06)" font-size="13.40" fill="#000" >1</text>
</svg></body></html>
